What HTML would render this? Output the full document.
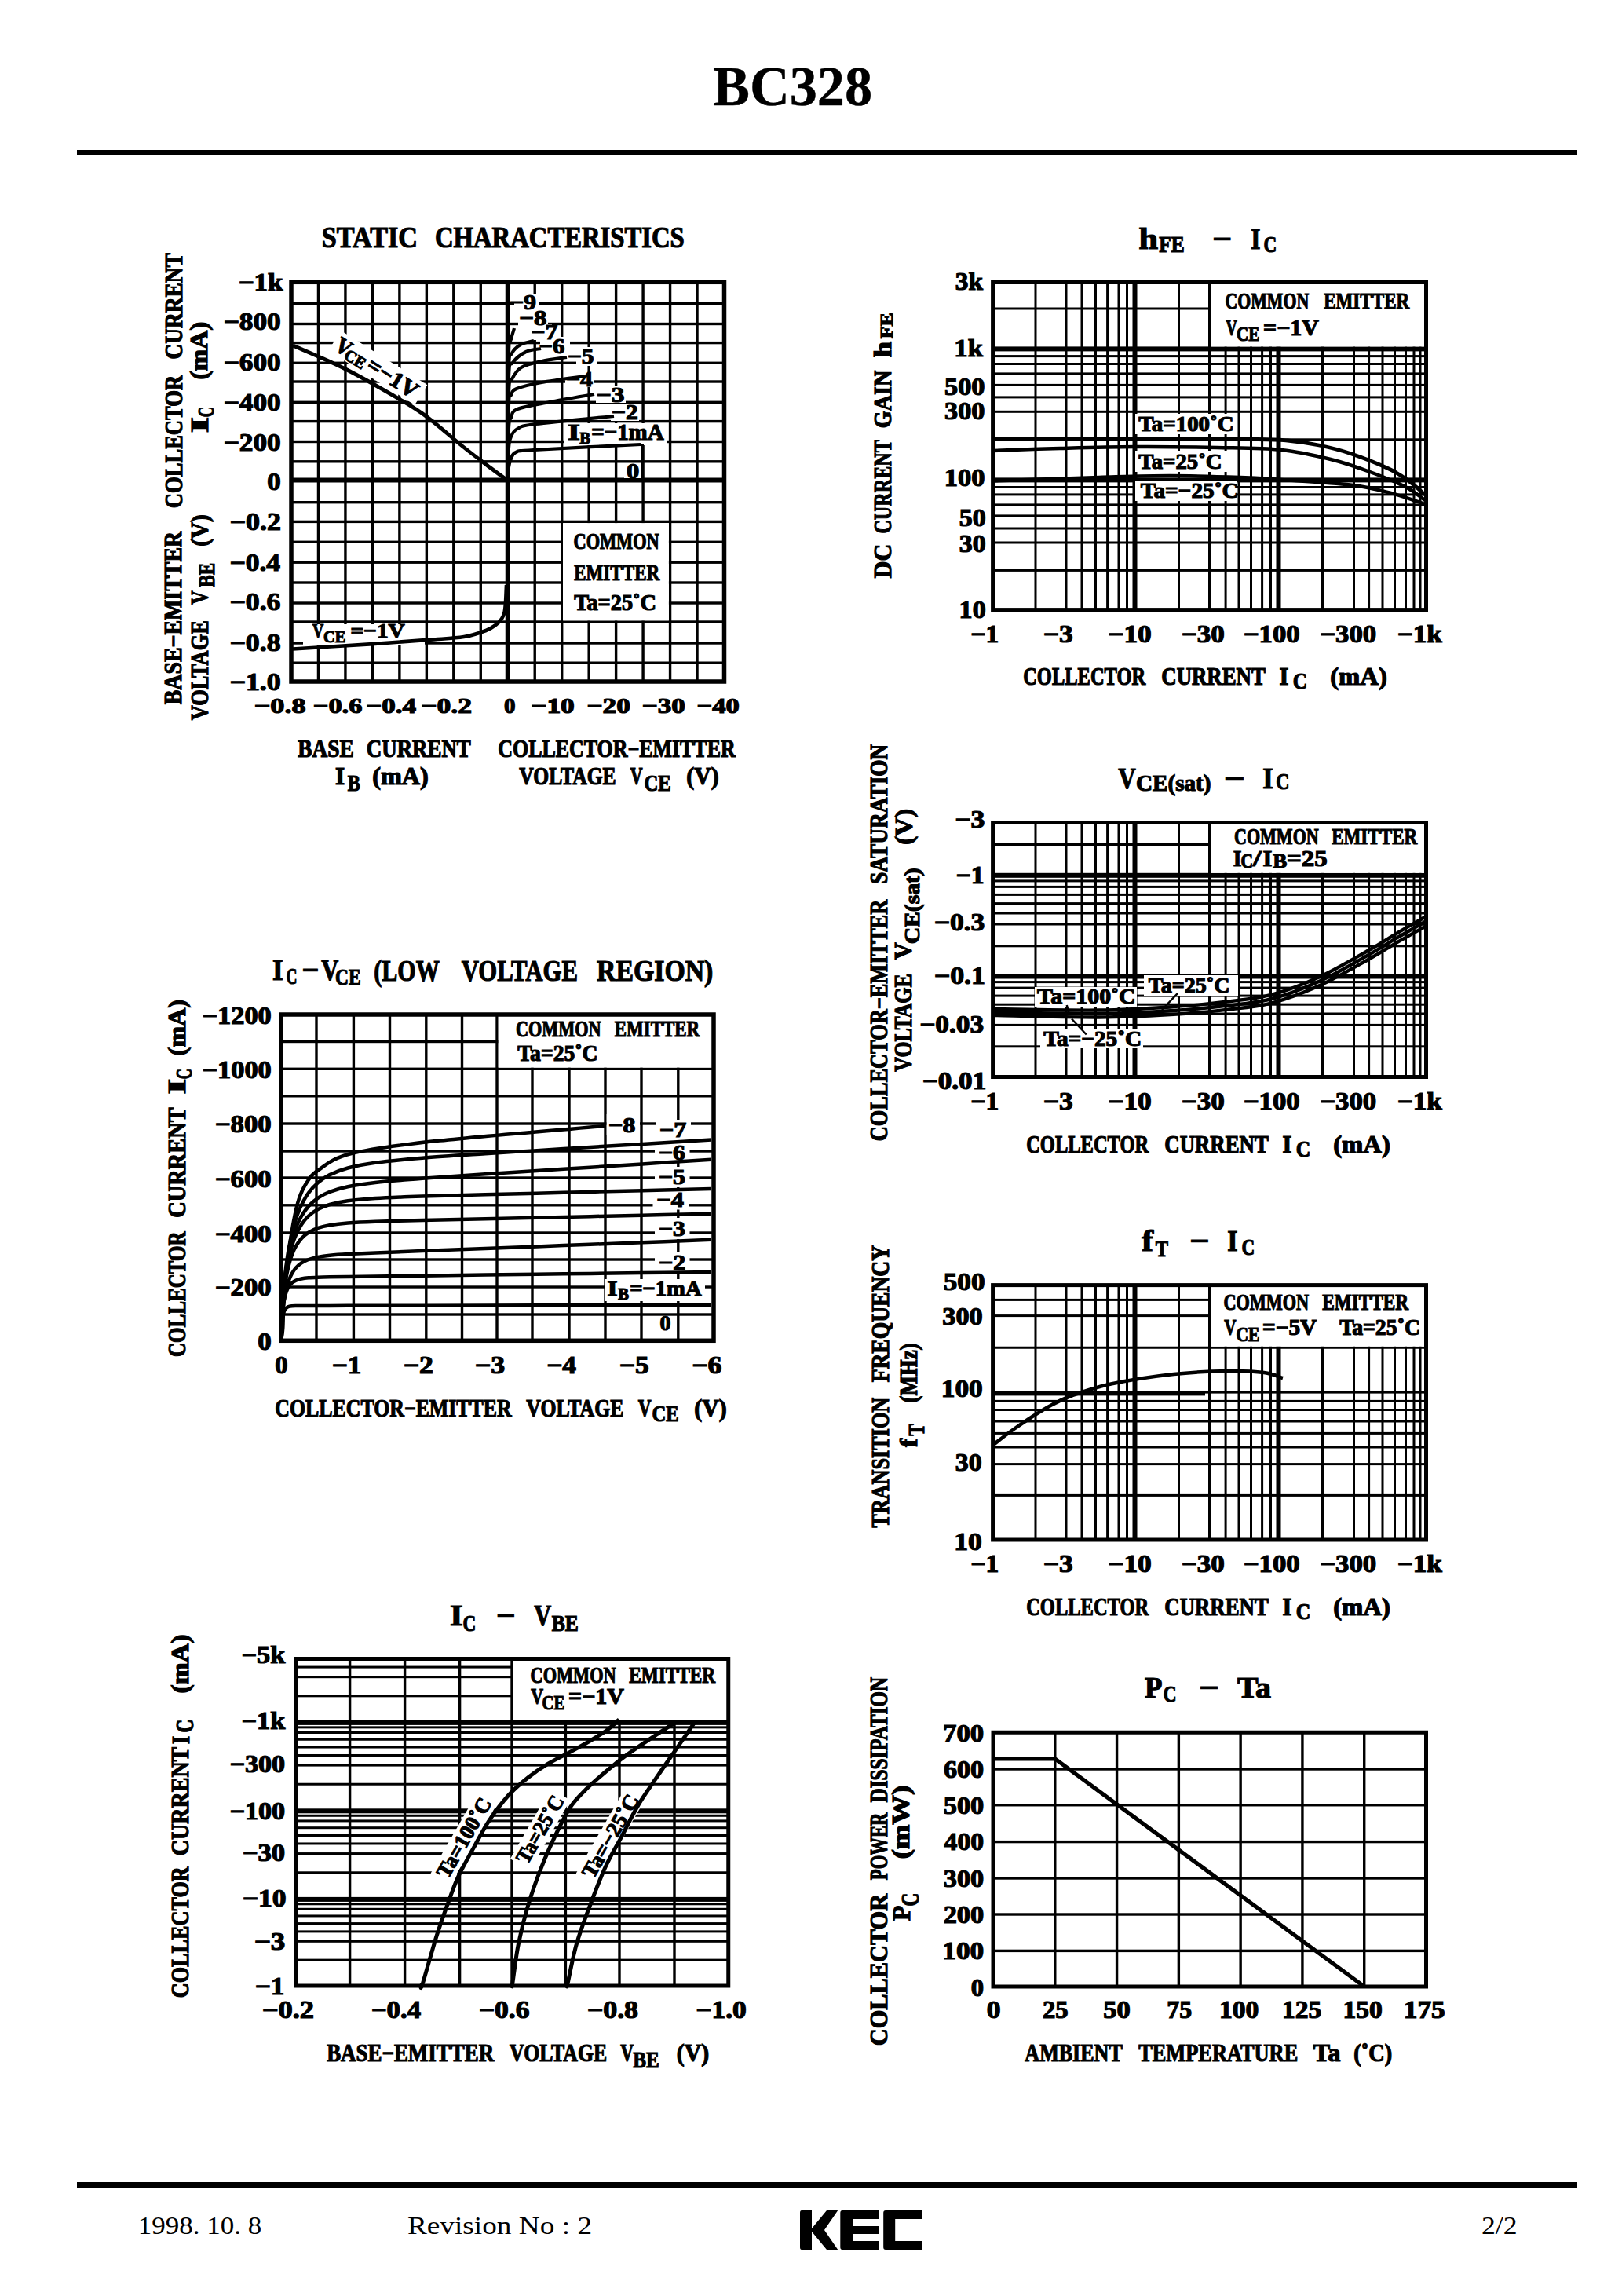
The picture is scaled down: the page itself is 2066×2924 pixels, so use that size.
<!DOCTYPE html>
<html><head><meta charset="utf-8"><title>BC328</title>
<style>
html,body{margin:0;padding:0;background:#fff;width:2066px;height:2924px;overflow:hidden}
svg{display:block}
text{font-family:"Liberation Serif",serif;white-space:pre}
</style></head><body>
<svg xmlns="http://www.w3.org/2000/svg" xml:space="preserve" width="2066" height="2924" viewBox="0 0 2066 2924">
<rect x="0" y="0" width="2066" height="2924" fill="#fff"/>
<text x="908.03" y="133.5" font-size="71.5" font-weight="bold" font-family="Liberation Serif" textLength="203.1" lengthAdjust="spacingAndGlyphs" stroke="#000" stroke-width="0.4">BC328</text>
<rect x="98" y="191" width="1911" height="7" fill="#000"/>
<rect x="98" y="2779" width="1911" height="7" fill="#000"/>
<text x="175.67" y="2845" font-size="32" font-weight="normal" font-family="Liberation Serif" textLength="157.66" lengthAdjust="spacingAndGlyphs">1998. 10. 8</text>
<text x="518.93" y="2845" font-size="32" font-weight="normal" font-family="Liberation Serif" textLength="235.13" lengthAdjust="spacingAndGlyphs">Revision No : 2</text>
<text x="1887.03" y="2845" font-size="32" font-weight="normal" font-family="Liberation Serif" textLength="45.64" lengthAdjust="spacingAndGlyphs">2/2</text>
<path d="M1021 2815 L1034 2815 L1034 2838 L1053 2815 L1067.2 2815 L1050 2840 L1067.2 2865 L1053 2865 L1034 2842 L1034 2865 L1021 2865 Q1019 2865 1019 2862 L1019 2818 Q1019 2815 1021 2815 Z" fill="#000"/>
<path d="M1073 2815 L1119 2815 L1119 2826 L1086 2826 L1086 2835 L1119 2835 L1119 2845 L1086 2845 L1086 2854 L1119 2854 L1119 2865 L1073 2865 Q1070.3 2865 1070.3 2862 L1070.3 2818 Q1070.3 2815 1073 2815 Z" fill="#000"/>
<path d="M1128 2815 L1174 2815 L1174 2826 L1140.2 2826 L1140.2 2854 L1174 2854 L1174 2865 L1128 2865 Q1125.2 2865 1125.2 2862 L1125.2 2818 Q1125.2 2815 1128 2815 Z" fill="#000"/>
<rect x="403.77" y="359.3" width="3.4" height="508.7" fill="#000"/>
<rect x="438.24" y="359.3" width="3.4" height="508.7" fill="#000"/>
<rect x="472.71" y="359.3" width="3.4" height="508.7" fill="#000"/>
<rect x="507.18" y="359.3" width="3.4" height="508.7" fill="#000"/>
<rect x="541.64" y="359.3" width="3.4" height="508.7" fill="#000"/>
<rect x="576.11" y="359.3" width="3.4" height="508.7" fill="#000"/>
<rect x="610.58" y="359.3" width="3.4" height="508.7" fill="#000"/>
<rect x="643.75" y="359.3" width="6" height="508.7" fill="#000"/>
<rect x="679.52" y="359.3" width="3.4" height="508.7" fill="#000"/>
<rect x="713.99" y="359.3" width="3.4" height="508.7" fill="#000"/>
<rect x="748.46" y="359.3" width="3.4" height="508.7" fill="#000"/>
<rect x="782.92" y="359.3" width="3.4" height="508.7" fill="#000"/>
<rect x="817.39" y="359.3" width="3.4" height="508.7" fill="#000"/>
<rect x="851.86" y="359.3" width="3.4" height="508.7" fill="#000"/>
<rect x="886.33" y="359.3" width="3.4" height="508.7" fill="#000"/>
<rect x="371" y="384.8" width="551.5" height="3.4" fill="#000"/>
<rect x="371" y="410.8" width="551.5" height="3.4" fill="#000"/>
<rect x="371" y="434.9" width="551.5" height="3.4" fill="#000"/>
<rect x="371" y="460.6" width="551.5" height="3.4" fill="#000"/>
<rect x="371" y="484.3" width="551.5" height="3.4" fill="#000"/>
<rect x="371" y="510.6" width="551.5" height="3.4" fill="#000"/>
<rect x="371" y="534.9" width="551.5" height="3.4" fill="#000"/>
<rect x="371" y="560.8" width="551.5" height="3.4" fill="#000"/>
<rect x="371" y="586.1" width="551.5" height="3.4" fill="#000"/>
<rect x="371" y="608.5" width="551.5" height="6" fill="#000"/>
<rect x="371" y="638" width="551.5" height="3.4" fill="#000"/>
<rect x="371" y="662.7" width="551.5" height="3.4" fill="#000"/>
<rect x="371" y="688.6" width="551.5" height="3.4" fill="#000"/>
<rect x="371" y="714.5" width="551.5" height="3.4" fill="#000"/>
<rect x="371" y="740.3" width="551.5" height="3.4" fill="#000"/>
<rect x="371" y="766.3" width="551.5" height="3.4" fill="#000"/>
<rect x="371" y="790.3" width="551.5" height="3.4" fill="#000"/>
<rect x="371" y="817.3" width="551.5" height="3.4" fill="#000"/>
<rect x="371" y="842.5" width="551.5" height="3.4" fill="#000"/>
<rect x="371" y="359.3" width="551.5" height="508.7" fill="none" stroke="#000" stroke-width="5.5"/>
<rect x="717" y="666.1" width="134.9" height="124.2" fill="#fff"/>
<text x="730.51" y="699" font-size="28.5" font-weight="bold" font-family="Liberation Serif" textLength="109.19" lengthAdjust="spacingAndGlyphs" stroke="#000" stroke-width="1.2">COMMON</text>
<text x="731.21" y="738.5" font-size="28.5" font-weight="bold" font-family="Liberation Serif" textLength="108.99" lengthAdjust="spacingAndGlyphs" stroke="#000" stroke-width="1.2">EMITTER</text>
<text x="731.17" y="776.5" font-size="28.5" font-weight="bold" font-family="Liberation Serif" textLength="104.84" lengthAdjust="spacingAndGlyphs" stroke="#000" stroke-width="1.2">Ta=25˚C</text>
<rect x="655" y="375" width="31" height="22" fill="#fff"/>
<rect x="660" y="397" width="38" height="19" fill="#fff"/>
<rect x="661" y="412" width="42" height="21" fill="#fff"/>
<rect x="688" y="429" width="38" height="28" fill="#fff"/>
<rect x="734" y="442" width="27" height="24" fill="#fff"/>
<rect x="720" y="474" width="37" height="19" fill="#fff"/>
<rect x="759" y="492" width="38" height="21" fill="#fff"/>
<rect x="778" y="514" width="36" height="22" fill="#fff"/>
<rect x="719" y="539" width="131" height="28" fill="#fff"/>
<rect x="795" y="590" width="21" height="19" fill="#fff"/>
<rect x="386" y="795" width="155" height="26.5" fill="#fff"/>
<g transform="translate(430.5,449.4) rotate(32.2)"><rect x="-12" y="-26" width="130" height="30" fill="#fff"/></g>
<path d="M373 440 C384.17 445 417.17 458.5 440 470 C462.83 481.5 492.67 498.83 510 509 C527.33 519.17 530.67 521 544 531 C557.33 541 576.5 558.17 590 569 C603.5 579.83 615.33 588.67 625 596 C634.67 603.33 644.17 610.17 648 613" fill="none" stroke="#000" stroke-width="4.8" stroke-linejoin="round" stroke-linecap="butt"/>
<path d="M373 826.5 C389.33 825.48 442.33 822.33 471 820.4 C499.67 818.47 525 816.47 545 814.9 C565 813.33 578.67 812.98 591 811 C603.33 809.02 612.17 805.58 619 803 C625.83 800.42 628.67 798 632 795.5 C635.33 793 637.25 790.58 639 788 C640.75 785.42 641.67 783.5 642.5 780 C643.33 776.5 643.58 772.83 644 767 C644.42 761.17 644.83 748.67 645 745" fill="none" stroke="#000" stroke-width="4.6" stroke-linejoin="round" stroke-linecap="butt"/>
<path d="M647 612 C647.17 609.17 647.33 599.67 648 595 C648.67 590.33 649.5 587.17 651 584 C652.5 580.83 652.17 577.83 657 576 C661.83 574.17 653.5 574.67 680 573 C706.5 571.33 793.33 567.17 816 566" fill="none" stroke="#000" stroke-width="4.2" stroke-linejoin="round" stroke-linecap="butt"/>
<path d="M647 612 C647.17 605 647.33 579.33 648 570 C648.67 560.67 649.17 560 651 556 C652.83 552 653.83 548.67 659 546 C664.17 543.33 661.5 542.67 682 540 C702.5 537.33 765.33 531.67 782 530" fill="none" stroke="#000" stroke-width="4.2" stroke-linejoin="round" stroke-linecap="butt"/>
<path d="M647 612 C647.17 600.83 647.33 558.33 648 545 C648.67 531.67 649.17 536 651 532 C652.83 528 650.83 524.33 659 521 C667.17 517.67 683.67 515.17 700 512 C716.33 508.83 747.5 503.67 757 502" fill="none" stroke="#000" stroke-width="4.2" stroke-linejoin="round" stroke-linecap="butt"/>
<path d="M647 612 C647.17 595.83 647.33 533.17 648 515 C648.67 496.83 649.33 506.33 651 503 C652.67 499.67 651.5 497.67 658 495 C664.5 492.33 675.5 489.67 690 487 C704.5 484.33 735.83 480.33 745 479" fill="none" stroke="#000" stroke-width="4.2" stroke-linejoin="round" stroke-linecap="butt"/>
<path d="M647 612 C647.17 593.33 647.17 521.5 648 500 C648.83 478.5 649.33 488.33 652 483 C654.67 477.67 657.67 471.83 664 468 C670.33 464.17 680.33 462.17 690 460 C699.67 457.83 716.67 455.83 722 455" fill="none" stroke="#000" stroke-width="4.2" stroke-linejoin="round" stroke-linecap="butt"/>
<path d="M647 612 C647.17 590 647 505 648 480 C649 455 649.33 467.33 653 462 C656.67 456.67 664 451 670 448 C676 445 685.83 444.67 689 444" fill="none" stroke="#000" stroke-width="4.2" stroke-linejoin="round" stroke-linecap="butt"/>
<path d="M647 612 C647.17 588.33 647.17 497 648 470 C648.83 443 649.5 455.17 652 450 C654.5 444.83 658.33 441.67 663 439 C667.67 436.33 677.17 434.83 680 434" fill="none" stroke="#000" stroke-width="4.2" stroke-linejoin="round" stroke-linecap="butt"/>
<path d="M647 612 C647.17 585 647.33 480 648 450 C648.67 420 649.83 437.33 651 432 C652.17 426.67 654.33 420.33 655 418" fill="none" stroke="#000" stroke-width="4.2" stroke-linejoin="round" stroke-linecap="butt"/>
<rect x="816" y="565" width="4" height="46" fill="#000"/>
<text x="648.92" y="394" font-size="27" font-weight="bold" font-family="Liberation Serif" textLength="34.14" lengthAdjust="spacingAndGlyphs" stroke="#000" stroke-width="1.2">−9</text>
<text x="661.37" y="414" font-size="27" font-weight="bold" font-family="Liberation Serif" textLength="35.12" lengthAdjust="spacingAndGlyphs" stroke="#000" stroke-width="1.2">−8</text>
<text x="676.44" y="431.5" font-size="27" font-weight="bold" font-family="Liberation Serif" textLength="33.73" lengthAdjust="spacingAndGlyphs" stroke="#000" stroke-width="1.2">−7</text>
<text x="686.48" y="450" font-size="27" font-weight="bold" font-family="Liberation Serif" textLength="32.82" lengthAdjust="spacingAndGlyphs" stroke="#000" stroke-width="1.2">−6</text>
<text x="722.94" y="463" font-size="27" font-weight="bold" font-family="Liberation Serif" textLength="33.61" lengthAdjust="spacingAndGlyphs" stroke="#000" stroke-width="1.2">−5</text>
<text x="720.92" y="491.5" font-size="27" font-weight="bold" font-family="Liberation Serif" textLength="34.07" lengthAdjust="spacingAndGlyphs" stroke="#000" stroke-width="1.2">−4</text>
<text x="759.84" y="511.5" font-size="27" font-weight="bold" font-family="Liberation Serif" textLength="35.7" lengthAdjust="spacingAndGlyphs" stroke="#000" stroke-width="1.2">−3</text>
<text x="778.93" y="534" font-size="27" font-weight="bold" font-family="Liberation Serif" textLength="33.83" lengthAdjust="spacingAndGlyphs" stroke="#000" stroke-width="1.2">−2</text>
<text x="722.98" y="560" font-size="29" font-weight="bold" font-family="Liberation Serif" textLength="15.78" lengthAdjust="spacingAndGlyphs" stroke="#000" stroke-width="1.2">I</text>
<text x="738.26" y="565" font-size="21" font-weight="bold" font-family="Liberation Serif" textLength="13.71" lengthAdjust="spacingAndGlyphs" stroke="#000" stroke-width="1.2">B</text>
<text x="753.16" y="560" font-size="29" font-weight="bold" font-family="Liberation Serif" textLength="92.45" lengthAdjust="spacingAndGlyphs" stroke="#000" stroke-width="1.2">=−1mA</text>
<text x="798.11" y="609" font-size="27" font-weight="bold" font-family="Liberation Serif" textLength="16.28" lengthAdjust="spacingAndGlyphs" stroke="#000" stroke-width="1.2">0</text>
<text x="397.88" y="811.5" font-size="26" font-weight="bold" font-family="Liberation Serif" textLength="14.24" lengthAdjust="spacingAndGlyphs" stroke="#000" stroke-width="1.2">V</text>
<text x="412.1" y="817.75" font-size="20" font-weight="bold" font-family="Liberation Serif" textLength="28.34" lengthAdjust="spacingAndGlyphs" stroke="#000" stroke-width="1.2">CE</text>
<text x="446.64" y="811.5" font-size="26" font-weight="bold" font-family="Liberation Serif" textLength="69.09" lengthAdjust="spacingAndGlyphs" stroke="#000" stroke-width="1.2">=−1V</text>
<g transform="translate(430.5,449.4) rotate(32.2)">
<text x="-7.7" y="-1" font-size="29" font-weight="bold" font-family="Liberation Serif" textLength="19.4" lengthAdjust="spacingAndGlyphs" stroke="#000" stroke-width="1.2">V</text>
<text x="8.6" y="2" font-size="21" font-weight="bold" font-family="Liberation Serif" textLength="28.34" lengthAdjust="spacingAndGlyphs" stroke="#000" stroke-width="1.2">CE</text>
<text x="40.09" y="-1" font-size="29" font-weight="bold" font-family="Liberation Serif" textLength="71.65" lengthAdjust="spacingAndGlyphs" stroke="#000" stroke-width="1.2">=−1V</text>
</g>
<text x="303.76" y="370" font-size="30.5" font-weight="bold" font-family="Liberation Serif" textLength="56.69" lengthAdjust="spacingAndGlyphs" stroke="#000" stroke-width="1.2">−1k</text>
<text x="284.74" y="420" font-size="30.5" font-weight="bold" font-family="Liberation Serif" textLength="73" lengthAdjust="spacingAndGlyphs" stroke="#000" stroke-width="1.2">−800</text>
<text x="284.74" y="471.5" font-size="30.5" font-weight="bold" font-family="Liberation Serif" textLength="73" lengthAdjust="spacingAndGlyphs" stroke="#000" stroke-width="1.2">−600</text>
<text x="284.74" y="523" font-size="30.5" font-weight="bold" font-family="Liberation Serif" textLength="73" lengthAdjust="spacingAndGlyphs" stroke="#000" stroke-width="1.2">−400</text>
<text x="284.74" y="574" font-size="30.5" font-weight="bold" font-family="Liberation Serif" textLength="73" lengthAdjust="spacingAndGlyphs" stroke="#000" stroke-width="1.2">−200</text>
<text x="340.27" y="624" font-size="30.5" font-weight="bold" font-family="Liberation Serif" textLength="17.46" lengthAdjust="spacingAndGlyphs" stroke="#000" stroke-width="1.2">0</text>
<text x="292.45" y="675" font-size="30.5" font-weight="bold" font-family="Liberation Serif" textLength="65.49" lengthAdjust="spacingAndGlyphs" stroke="#000" stroke-width="1.2">−0.2</text>
<text x="292.48" y="726.5" font-size="30.5" font-weight="bold" font-family="Liberation Serif" textLength="64.58" lengthAdjust="spacingAndGlyphs" stroke="#000" stroke-width="1.2">−0.4</text>
<text x="292.47" y="776.5" font-size="30.5" font-weight="bold" font-family="Liberation Serif" textLength="64.98" lengthAdjust="spacingAndGlyphs" stroke="#000" stroke-width="1.2">−0.6</text>
<text x="292.46" y="829" font-size="30.5" font-weight="bold" font-family="Liberation Serif" textLength="65.13" lengthAdjust="spacingAndGlyphs" stroke="#000" stroke-width="1.2">−0.8</text>
<text x="292.46" y="879" font-size="30.5" font-weight="bold" font-family="Liberation Serif" textLength="65.31" lengthAdjust="spacingAndGlyphs" stroke="#000" stroke-width="1.2">−1.0</text>
<text x="323.69" y="907.75" font-size="27" font-weight="bold" font-family="Liberation Serif" textLength="65.91" lengthAdjust="spacingAndGlyphs" stroke="#000" stroke-width="1.2">−0.8</text>
<text x="398.79" y="907.75" font-size="27" font-weight="bold" font-family="Liberation Serif" textLength="62.62" lengthAdjust="spacingAndGlyphs" stroke="#000" stroke-width="1.2">−0.6</text>
<text x="466.25" y="907.75" font-size="27" font-weight="bold" font-family="Liberation Serif" textLength="63.8" lengthAdjust="spacingAndGlyphs" stroke="#000" stroke-width="1.2">−0.4</text>
<text x="536.23" y="907.75" font-size="27" font-weight="bold" font-family="Liberation Serif" textLength="64.7" lengthAdjust="spacingAndGlyphs" stroke="#000" stroke-width="1.2">−0.2</text>
<text x="641.99" y="907.75" font-size="27" font-weight="bold" font-family="Liberation Serif" textLength="14.51" lengthAdjust="spacingAndGlyphs" stroke="#000" stroke-width="1.2">0</text>
<text x="676.24" y="907.75" font-size="27" font-weight="bold" font-family="Liberation Serif" textLength="55.51" lengthAdjust="spacingAndGlyphs" stroke="#000" stroke-width="1.2">−10</text>
<text x="747.49" y="907.75" font-size="27" font-weight="bold" font-family="Liberation Serif" textLength="55.25" lengthAdjust="spacingAndGlyphs" stroke="#000" stroke-width="1.2">−20</text>
<text x="817.75" y="907.75" font-size="27" font-weight="bold" font-family="Liberation Serif" textLength="54.98" lengthAdjust="spacingAndGlyphs" stroke="#000" stroke-width="1.2">−30</text>
<text x="887.53" y="907.75" font-size="27" font-weight="bold" font-family="Liberation Serif" textLength="54.18" lengthAdjust="spacingAndGlyphs" stroke="#000" stroke-width="1.2">−40</text>
<text x="409.86" y="315" font-size="38" font-weight="bold" font-family="Liberation Serif" textLength="122.04" lengthAdjust="spacingAndGlyphs" stroke="#000" stroke-width="1.2">STATIC</text>
<text x="554" y="315" font-size="38" font-weight="bold" font-family="Liberation Serif" textLength="317.78" lengthAdjust="spacingAndGlyphs" stroke="#000" stroke-width="1.2">CHARACTERISTICS</text>
<text x="379.14" y="964" font-size="30.5" font-weight="bold" font-family="Liberation Serif" textLength="71.66" lengthAdjust="spacingAndGlyphs" stroke="#000" stroke-width="1.2">BASE</text>
<text x="466.79" y="964" font-size="30.5" font-weight="bold" font-family="Liberation Serif" textLength="133.02" lengthAdjust="spacingAndGlyphs" stroke="#000" stroke-width="1.2">CURRENT</text>
<text x="634.34" y="964" font-size="30.5" font-weight="bold" font-family="Liberation Serif" textLength="302.34" lengthAdjust="spacingAndGlyphs" stroke="#000" stroke-width="1.2">COLLECTOR−EMITTER</text>
<text x="427.05" y="999" font-size="30.5" font-weight="bold" font-family="Liberation Serif" textLength="12.15" lengthAdjust="spacingAndGlyphs" stroke="#000" stroke-width="1.2">I</text>
<text x="442.7" y="1006.5" font-size="29" font-weight="bold" font-family="Liberation Serif" textLength="16.12" lengthAdjust="spacingAndGlyphs" stroke="#000" stroke-width="1.2">B</text>
<text x="474.18" y="999" font-size="30.5" font-weight="bold" font-family="Liberation Serif" textLength="71.63" lengthAdjust="spacingAndGlyphs" stroke="#000" stroke-width="1.2">(mA)</text>
<text x="661.32" y="999" font-size="30.5" font-weight="bold" font-family="Liberation Serif" textLength="123.34" lengthAdjust="spacingAndGlyphs" stroke="#000" stroke-width="1.2">VOLTAGE</text>
<text x="802.85" y="999" font-size="30.5" font-weight="bold" font-family="Liberation Serif" textLength="15.79" lengthAdjust="spacingAndGlyphs" stroke="#000" stroke-width="1.2">V</text>
<text x="820.4" y="1006.5" font-size="29" font-weight="bold" font-family="Liberation Serif" textLength="34.27" lengthAdjust="spacingAndGlyphs" stroke="#000" stroke-width="1.2">CE</text>
<text x="874.29" y="999" font-size="30.5" font-weight="bold" font-family="Liberation Serif" textLength="41.42" lengthAdjust="spacingAndGlyphs" stroke="#000" stroke-width="1.2">(V)</text>
<text transform="translate(231.5,647.19) rotate(-90)" x="0" y="0" font-size="30.5" font-weight="bold" font-family="Liberation Serif" textLength="169.36" lengthAdjust="spacingAndGlyphs" stroke="#000" stroke-width="1.2">COLLECTOR</text>
<text transform="translate(231.5,457.54) rotate(-90)" x="0" y="0" font-size="30.5" font-weight="bold" font-family="Liberation Serif" textLength="135.35" lengthAdjust="spacingAndGlyphs" stroke="#000" stroke-width="1.2">CURRENT</text>
<text transform="translate(231,897.36) rotate(-90)" x="0" y="0" font-size="30.5" font-weight="bold" font-family="Liberation Serif" textLength="220.52" lengthAdjust="spacingAndGlyphs" stroke="#000" stroke-width="1.2">BASE−EMITTER</text>
<text transform="translate(263.5,483.56) rotate(-90)" x="0" y="0" font-size="30.5" font-weight="bold" font-family="Liberation Serif" textLength="73.93" lengthAdjust="spacingAndGlyphs" stroke="#000" stroke-width="1.2">(mA)</text>
<text transform="translate(265,551.16) rotate(-90)" x="0" y="0" font-size="30.5" font-weight="bold" font-family="Liberation Serif" textLength="20.32" lengthAdjust="spacingAndGlyphs" stroke="#000" stroke-width="1.2">I</text>
<text transform="translate(272,531.3) rotate(-90)" x="0" y="0" font-size="29" font-weight="bold" font-family="Liberation Serif" textLength="13.36" lengthAdjust="spacingAndGlyphs" stroke="#000" stroke-width="1.2">C</text>
<text transform="translate(265,917.18) rotate(-90)" x="0" y="0" font-size="30.5" font-weight="bold" font-family="Liberation Serif" textLength="126.89" lengthAdjust="spacingAndGlyphs" stroke="#000" stroke-width="1.2">VOLTAGE</text>
<text transform="translate(265,769.67) rotate(-90)" x="0" y="0" font-size="30.5" font-weight="bold" font-family="Liberation Serif" textLength="17.34" lengthAdjust="spacingAndGlyphs" stroke="#000" stroke-width="1.2">V</text>
<text transform="translate(272.5,747.78) rotate(-90)" x="0" y="0" font-size="29" font-weight="bold" font-family="Liberation Serif" textLength="30.87" lengthAdjust="spacingAndGlyphs" stroke="#000" stroke-width="1.2">BE</text>
<text transform="translate(265,695.68) rotate(-90)" x="0" y="0" font-size="30.5" font-weight="bold" font-family="Liberation Serif" textLength="40.36" lengthAdjust="spacingAndGlyphs" stroke="#000" stroke-width="1.2">(V)</text>
<rect x="401.3" y="1292" width="3.4" height="415.3" fill="#000"/>
<rect x="448.7" y="1292" width="3.4" height="415.3" fill="#000"/>
<rect x="494.8" y="1292" width="3.4" height="415.3" fill="#000"/>
<rect x="541.1" y="1292" width="3.4" height="415.3" fill="#000"/>
<rect x="586.8" y="1292" width="3.4" height="415.3" fill="#000"/>
<rect x="631.3" y="1292" width="3.4" height="415.3" fill="#000"/>
<rect x="676.3" y="1292" width="3.4" height="415.3" fill="#000"/>
<rect x="723.3" y="1292" width="3.4" height="415.3" fill="#000"/>
<rect x="769.3" y="1292" width="3.4" height="415.3" fill="#000"/>
<rect x="815.3" y="1292" width="3.4" height="415.3" fill="#000"/>
<rect x="862.1" y="1292" width="3.4" height="415.3" fill="#000"/>
<rect x="358" y="1324.8" width="551" height="3.4" fill="#000"/>
<rect x="358" y="1359.6" width="551" height="3.4" fill="#000"/>
<rect x="358" y="1394.1" width="551" height="3.4" fill="#000"/>
<rect x="358" y="1429.3" width="551" height="3.4" fill="#000"/>
<rect x="358" y="1464.3" width="551" height="3.4" fill="#000"/>
<rect x="358" y="1498.3" width="551" height="3.4" fill="#000"/>
<rect x="358" y="1533.1" width="551" height="3.4" fill="#000"/>
<rect x="358" y="1568.3" width="551" height="3.4" fill="#000"/>
<rect x="358" y="1602.3" width="551" height="3.4" fill="#000"/>
<rect x="358" y="1637.3" width="551" height="3.4" fill="#000"/>
<rect x="358" y="1672.3" width="551" height="3.4" fill="#000"/>
<rect x="634.7" y="1292" width="274.3" height="67.6" fill="#fff"/>
<rect x="358" y="1292" width="551" height="415.3" fill="none" stroke="#000" stroke-width="5.5"/>
<text x="657.01" y="1320" font-size="28.5" font-weight="bold" font-family="Liberation Serif" textLength="108.68" lengthAdjust="spacingAndGlyphs" stroke="#000" stroke-width="1.2">COMMON</text>
<text x="782.71" y="1320" font-size="28.5" font-weight="bold" font-family="Liberation Serif" textLength="108.49" lengthAdjust="spacingAndGlyphs" stroke="#000" stroke-width="1.2">EMITTER</text>
<text x="659.18" y="1350.75" font-size="28.5" font-weight="bold" font-family="Liberation Serif" textLength="102.28" lengthAdjust="spacingAndGlyphs" stroke="#000" stroke-width="1.2">Ta=25˚C</text>
<rect x="772.7" y="1419" width="42.3" height="27" fill="#fff"/>
<rect x="835" y="1426" width="45" height="26" fill="#fff"/>
<rect x="834" y="1455" width="44.5" height="25.5" fill="#fff"/>
<rect x="834" y="1486" width="44.5" height="26" fill="#fff"/>
<rect x="831.5" y="1517" width="45.5" height="23.5" fill="#fff"/>
<rect x="834" y="1551" width="44.5" height="27" fill="#fff"/>
<rect x="834" y="1595" width="44.5" height="25.5" fill="#fff"/>
<rect x="770" y="1629" width="128" height="28" fill="#fff"/>
<rect x="836" y="1676" width="23" height="21" fill="#fff"/>
<path d="M358 1707 C358.08 1704.74 358.3 1697.24 358.5 1693.45 C358.7 1689.65 358.92 1687.02 359.2 1684.23 C359.48 1681.43 359.82 1678.83 360.2 1676.66 C360.58 1674.49 361.03 1672.68 361.5 1671.2 C361.97 1669.71 362.42 1668.73 363 1667.78 C363.58 1666.82 364.17 1666.08 365 1665.44 C365.83 1664.81 366.83 1664.32 368 1663.95 C369.17 1663.59 370.5 1663.43 372 1663.28 C373.5 1663.13 375 1663.1 377 1663.04 C379 1662.99 381.33 1662.98 384 1662.96 C386.67 1662.94 389.5 1662.94 393 1662.93 C396.5 1662.92 400.5 1662.92 405 1662.91 C409.5 1662.9 413.67 1662.89 420 1662.88 C426.33 1662.86 433.33 1662.85 443 1662.83 C452.67 1662.81 462.17 1662.79 478 1662.76 C493.83 1662.73 514.67 1662.69 538 1662.64 C561.33 1662.59 588 1662.54 618 1662.48 C648 1662.42 684.67 1662.35 718 1662.28 C751.33 1662.21 786.67 1662.14 818 1662.08 C849.33 1662.02 891.33 1661.93 906 1661.9" fill="none" stroke="#000" stroke-width="4.5" stroke-linejoin="round" stroke-linecap="butt"/>
<path d="M358 1707 C358.08 1704.08 358.3 1694.35 358.5 1689.5 C358.7 1684.65 358.92 1681.63 359.2 1677.92 C359.48 1674.22 359.82 1670.58 360.2 1667.26 C360.58 1663.95 361.03 1660.79 361.5 1658.05 C361.97 1655.31 362.42 1653.11 363 1650.83 C363.58 1648.54 364.17 1646.43 365 1644.33 C365.83 1642.24 366.83 1640.03 368 1638.26 C369.17 1636.48 370.5 1634.94 372 1633.66 C373.5 1632.38 375 1631.45 377 1630.6 C379 1629.74 381.33 1629.05 384 1628.51 C386.67 1627.96 389.5 1627.63 393 1627.33 C396.5 1627.02 400.5 1626.84 405 1626.66 C409.5 1626.49 413.67 1626.4 420 1626.28 C426.33 1626.15 433.33 1626.05 443 1625.91 C452.67 1625.77 462.17 1625.65 478 1625.44 C493.83 1625.23 514.67 1624.96 538 1624.66 C561.33 1624.36 588 1624.01 618 1623.62 C648 1623.23 684.67 1622.75 718 1622.32 C751.33 1621.89 786.67 1621.43 818 1621.02 C849.33 1620.61 891.33 1620.07 906 1619.88" fill="none" stroke="#000" stroke-width="4.5" stroke-linejoin="round" stroke-linecap="butt"/>
<path d="M358 1707 C358.08 1704.47 358.3 1696.19 358.5 1691.79 C358.7 1687.39 358.92 1684.35 359.2 1680.62 C359.48 1676.88 359.82 1673.04 360.2 1669.39 C360.58 1665.74 361.03 1662.04 361.5 1658.72 C361.97 1655.4 362.42 1652.56 363 1649.48 C363.58 1646.41 364.17 1643.43 365 1640.25 C365.83 1637.06 366.83 1633.49 368 1630.38 C369.17 1627.26 370.5 1624.21 372 1621.55 C373.5 1618.9 375 1616.63 377 1614.44 C379 1612.24 381.33 1610.13 384 1608.39 C386.67 1606.65 389.5 1605.25 393 1604 C396.5 1602.75 400.5 1601.74 405 1600.88 C409.5 1600.02 413.67 1599.46 420 1598.83 C426.33 1598.21 433.33 1597.69 443 1597.12 C452.67 1596.56 462.17 1596.13 478 1595.46 C493.83 1594.78 514.67 1593.98 538 1593.06 C561.33 1592.15 588 1591.12 618 1589.96 C648 1588.81 684.67 1587.39 718 1586.1 C751.33 1584.82 786.67 1583.45 818 1582.24 C849.33 1581.03 891.33 1579.41 906 1578.85" fill="none" stroke="#000" stroke-width="4.5" stroke-linejoin="round" stroke-linecap="butt"/>
<path d="M358 1707 C358.08 1704.03 358.3 1694.38 358.5 1689.18 C358.7 1683.97 358.92 1680.3 359.2 1675.77 C359.48 1671.24 359.82 1666.53 360.2 1661.99 C360.58 1657.46 361.03 1652.79 361.5 1648.56 C361.97 1644.33 362.42 1640.65 363 1636.61 C363.58 1632.56 364.17 1628.62 365 1624.29 C365.83 1619.96 366.83 1615.03 368 1610.62 C369.17 1606.21 370.5 1601.76 372 1597.81 C373.5 1593.86 375 1590.38 377 1586.93 C379 1583.48 381.33 1580.01 384 1577.11 C386.67 1574.22 389.5 1571.75 393 1569.55 C396.5 1567.35 400.5 1565.47 405 1563.91 C409.5 1562.36 413.67 1561.29 420 1560.22 C426.33 1559.16 433.33 1558.28 443 1557.53 C452.67 1556.78 462.17 1556.29 478 1555.71 C493.83 1555.12 514.67 1554.6 538 1554.01 C561.33 1553.42 588 1552.84 618 1552.16 C648 1551.47 684.67 1550.65 718 1549.9 C751.33 1549.15 786.67 1548.36 818 1547.65 C849.33 1546.94 891.33 1546 906 1545.67" fill="none" stroke="#000" stroke-width="4.5" stroke-linejoin="round" stroke-linecap="butt"/>
<path d="M358 1707 C358.08 1703.94 358.3 1694.05 358.5 1688.65 C358.7 1683.24 358.92 1679.38 359.2 1674.59 C359.48 1669.8 359.82 1664.78 360.2 1659.89 C360.58 1655.01 361.03 1649.92 361.5 1645.27 C361.97 1640.62 362.42 1636.54 363 1631.99 C363.58 1627.45 364.17 1622.99 365 1617.99 C365.83 1612.98 366.83 1607.24 368 1601.98 C369.17 1596.71 370.5 1591.3 372 1586.4 C373.5 1581.5 375 1577.06 377 1572.57 C379 1568.08 381.33 1563.43 384 1559.44 C386.67 1555.46 389.5 1551.91 393 1548.68 C396.5 1545.46 400.5 1542.52 405 1540.08 C409.5 1537.64 413.67 1535.82 420 1534.03 C426.33 1532.23 433.33 1530.63 443 1529.31 C452.67 1527.99 462.17 1527.06 478 1526.11 C493.83 1525.16 514.67 1524.4 538 1523.6 C561.33 1522.81 588 1522.16 618 1521.35 C648 1520.54 684.67 1519.61 718 1518.75 C751.33 1517.89 786.67 1516.98 818 1516.18 C849.33 1515.37 891.33 1514.29 906 1513.92" fill="none" stroke="#000" stroke-width="4.5" stroke-linejoin="round" stroke-linecap="butt"/>
<path d="M358 1707 C358.08 1703.84 358.3 1693.62 358.5 1688.02 C358.7 1682.42 358.92 1678.4 359.2 1673.4 C359.48 1668.4 359.82 1663.14 360.2 1658.01 C360.58 1652.88 361.03 1647.52 361.5 1642.6 C361.97 1637.69 362.42 1633.35 363 1628.51 C363.58 1623.66 364.17 1618.9 365 1613.52 C365.83 1608.13 366.83 1601.93 368 1596.2 C369.17 1590.46 370.5 1584.53 372 1579.12 C373.5 1573.7 375 1568.76 377 1563.7 C379 1558.63 381.33 1553.34 384 1548.74 C386.67 1544.15 389.5 1539.98 393 1536.13 C396.5 1532.29 400.5 1528.7 405 1525.66 C409.5 1522.62 413.67 1520.27 420 1517.87 C426.33 1515.47 433.33 1513.23 443 1511.25 C452.67 1509.27 462.17 1507.73 478 1505.99 C493.83 1504.25 514.67 1502.56 538 1500.79 C561.33 1499.01 588 1497.33 618 1495.34 C648 1493.35 684.67 1491.01 718 1488.86 C751.33 1486.71 786.67 1484.44 818 1482.42 C849.33 1480.41 891.33 1477.71 906 1476.76" fill="none" stroke="#000" stroke-width="4.5" stroke-linejoin="round" stroke-linecap="butt"/>
<path d="M358 1707 C358.08 1703.73 358.3 1693.18 358.5 1687.36 C358.7 1681.54 358.92 1677.34 359.2 1672.09 C359.48 1666.85 359.82 1661.32 360.2 1655.89 C360.58 1650.46 361.03 1644.76 361.5 1639.51 C361.97 1634.25 362.42 1629.6 363 1624.35 C363.58 1619.11 364.17 1613.96 365 1608.06 C365.83 1602.16 366.83 1595.33 368 1588.95 C369.17 1582.57 370.5 1575.91 372 1569.76 C373.5 1563.61 375 1557.94 377 1552.06 C379 1546.18 381.33 1539.95 384 1534.47 C386.67 1529 389.5 1523.93 393 1519.21 C396.5 1514.48 400.5 1509.98 405 1506.13 C409.5 1502.29 413.67 1499.24 420 1496.13 C426.33 1493.01 433.33 1490.03 443 1487.46 C452.67 1484.89 462.17 1482.84 478 1480.72 C493.83 1478.6 514.67 1476.66 538 1474.75 C561.33 1472.84 588 1471.21 618 1469.25 C648 1467.3 684.67 1465.08 718 1463.03 C751.33 1460.97 786.67 1458.82 818 1456.9 C849.33 1454.98 891.33 1452.41 906 1451.52" fill="none" stroke="#000" stroke-width="4.5" stroke-linejoin="round" stroke-linecap="butt"/>
<path d="M358 1707 C358.38 1704.33 359.68 1701.57 360.3 1691 C360.92 1680.43 361.02 1656.02 361.7 1643.6 C362.38 1631.18 363.27 1625.52 364.4 1616.5 C365.53 1607.48 366.92 1599.65 368.5 1589.5 C370.08 1579.35 371.87 1566.02 373.9 1555.6 C375.93 1545.18 377.98 1535.13 380.7 1527 C383.42 1518.87 386.15 1512.88 390.2 1506.8 C394.25 1500.72 395.28 1496.83 405 1490.5 C414.72 1484.17 422.67 1475.12 448.5 1468.8 C474.33 1462.48 506.42 1458.4 560 1452.6 C613.58 1446.8 735 1437.1 770 1434" fill="none" stroke="#000" stroke-width="4.5" stroke-linejoin="round" stroke-linecap="butt"/>
<text x="774.9" y="1441.5" font-size="27" font-weight="bold" font-family="Liberation Serif" textLength="34.58" lengthAdjust="spacingAndGlyphs" stroke="#000" stroke-width="1.2">−8</text>
<text x="839.91" y="1448" font-size="27" font-weight="bold" font-family="Liberation Serif" textLength="34.27" lengthAdjust="spacingAndGlyphs" stroke="#000" stroke-width="1.2">−7</text>
<text x="838.93" y="1476.5" font-size="27" font-weight="bold" font-family="Liberation Serif" textLength="33.9" lengthAdjust="spacingAndGlyphs" stroke="#000" stroke-width="1.2">−6</text>
<text x="838.92" y="1508" font-size="27" font-weight="bold" font-family="Liberation Serif" textLength="34.15" lengthAdjust="spacingAndGlyphs" stroke="#000" stroke-width="1.2">−5</text>
<text x="836.39" y="1536.5" font-size="27" font-weight="bold" font-family="Liberation Serif" textLength="34.61" lengthAdjust="spacingAndGlyphs" stroke="#000" stroke-width="1.2">−4</text>
<text x="838.92" y="1574" font-size="27" font-weight="bold" font-family="Liberation Serif" textLength="34.07" lengthAdjust="spacingAndGlyphs" stroke="#000" stroke-width="1.2">−3</text>
<text x="838.91" y="1616.5" font-size="27" font-weight="bold" font-family="Liberation Serif" textLength="34.38" lengthAdjust="spacingAndGlyphs" stroke="#000" stroke-width="1.2">−2</text>
<text x="773.47" y="1650" font-size="28" font-weight="bold" font-family="Liberation Serif" textLength="13.06" lengthAdjust="spacingAndGlyphs" stroke="#000" stroke-width="1.2">I</text>
<text x="787.26" y="1655" font-size="20" font-weight="bold" font-family="Liberation Serif" textLength="13.71" lengthAdjust="spacingAndGlyphs" stroke="#000" stroke-width="1.2">B</text>
<text x="802.17" y="1650" font-size="28" font-weight="bold" font-family="Liberation Serif" textLength="91.44" lengthAdjust="spacingAndGlyphs" stroke="#000" stroke-width="1.2">=−1mA</text>
<text x="840.54" y="1694" font-size="27" font-weight="bold" font-family="Liberation Serif" textLength="13.92" lengthAdjust="spacingAndGlyphs" stroke="#000" stroke-width="1.2">0</text>
<text x="257.54" y="1304" font-size="30.5" font-weight="bold" font-family="Liberation Serif" textLength="88.17" lengthAdjust="spacingAndGlyphs" stroke="#000" stroke-width="1.2">−1200</text>
<text x="257.54" y="1372.75" font-size="30.5" font-weight="bold" font-family="Liberation Serif" textLength="88.17" lengthAdjust="spacingAndGlyphs" stroke="#000" stroke-width="1.2">−1000</text>
<text x="273.77" y="1441.5" font-size="30.5" font-weight="bold" font-family="Liberation Serif" textLength="71.96" lengthAdjust="spacingAndGlyphs" stroke="#000" stroke-width="1.2">−800</text>
<text x="273.77" y="1511.5" font-size="30.5" font-weight="bold" font-family="Liberation Serif" textLength="71.96" lengthAdjust="spacingAndGlyphs" stroke="#000" stroke-width="1.2">−600</text>
<text x="273.77" y="1581.5" font-size="30.5" font-weight="bold" font-family="Liberation Serif" textLength="71.96" lengthAdjust="spacingAndGlyphs" stroke="#000" stroke-width="1.2">−400</text>
<text x="273.77" y="1650" font-size="30.5" font-weight="bold" font-family="Liberation Serif" textLength="71.96" lengthAdjust="spacingAndGlyphs" stroke="#000" stroke-width="1.2">−200</text>
<text x="328.27" y="1719" font-size="30.5" font-weight="bold" font-family="Liberation Serif" textLength="17.46" lengthAdjust="spacingAndGlyphs" stroke="#000" stroke-width="1.2">0</text>
<text x="350.36" y="1749" font-size="30.5" font-weight="bold" font-family="Liberation Serif" textLength="16.28" lengthAdjust="spacingAndGlyphs" stroke="#000" stroke-width="1.2">0</text>
<text x="422.75" y="1749" font-size="30.5" font-weight="bold" font-family="Liberation Serif" textLength="37.46" lengthAdjust="spacingAndGlyphs" stroke="#000" stroke-width="1.2">−1</text>
<text x="513.72" y="1749" font-size="30.5" font-weight="bold" font-family="Liberation Serif" textLength="38.22" lengthAdjust="spacingAndGlyphs" stroke="#000" stroke-width="1.2">−2</text>
<text x="604.71" y="1749" font-size="30.5" font-weight="bold" font-family="Liberation Serif" textLength="38.42" lengthAdjust="spacingAndGlyphs" stroke="#000" stroke-width="1.2">−3</text>
<text x="696.24" y="1749" font-size="30.5" font-weight="bold" font-family="Liberation Serif" textLength="37.82" lengthAdjust="spacingAndGlyphs" stroke="#000" stroke-width="1.2">−4</text>
<text x="788.73" y="1749" font-size="30.5" font-weight="bold" font-family="Liberation Serif" textLength="37.97" lengthAdjust="spacingAndGlyphs" stroke="#000" stroke-width="1.2">−5</text>
<text x="881.22" y="1749" font-size="30.5" font-weight="bold" font-family="Liberation Serif" textLength="38.23" lengthAdjust="spacingAndGlyphs" stroke="#000" stroke-width="1.2">−6</text>
<text x="346.92" y="1248" font-size="38" font-weight="bold" font-family="Liberation Serif" textLength="13.67" lengthAdjust="spacingAndGlyphs" stroke="#000" stroke-width="1.2">I</text>
<text x="364.68" y="1253" font-size="29" font-weight="bold" font-family="Liberation Serif" textLength="13.67" lengthAdjust="spacingAndGlyphs" stroke="#000" stroke-width="1.2">C</text>
<text x="384.58" y="1248" font-size="38" font-weight="bold" font-family="Liberation Serif" textLength="21.82" lengthAdjust="spacingAndGlyphs" stroke="#000" stroke-width="1.2">−</text>
<text x="409.26" y="1248" font-size="38" font-weight="bold" font-family="Liberation Serif" textLength="21.98" lengthAdjust="spacingAndGlyphs" stroke="#000" stroke-width="1.2">V</text>
<text x="426.95" y="1254" font-size="29" font-weight="bold" font-family="Liberation Serif" textLength="32.65" lengthAdjust="spacingAndGlyphs" stroke="#000" stroke-width="1.2">CE</text>
<text x="476.28" y="1249" font-size="38" font-weight="bold" font-family="Liberation Serif" textLength="83.59" lengthAdjust="spacingAndGlyphs" stroke="#000" stroke-width="1.2">(LOW</text>
<text x="587.77" y="1249" font-size="38" font-weight="bold" font-family="Liberation Serif" textLength="148.15" lengthAdjust="spacingAndGlyphs" stroke="#000" stroke-width="1.2">VOLTAGE</text>
<text x="760.02" y="1249" font-size="38" font-weight="bold" font-family="Liberation Serif" textLength="148.36" lengthAdjust="spacingAndGlyphs" stroke="#000" stroke-width="1.2">REGION)</text>
<text x="350.34" y="1804" font-size="30.5" font-weight="bold" font-family="Liberation Serif" textLength="301.33" lengthAdjust="spacingAndGlyphs" stroke="#000" stroke-width="1.2">COLLECTOR−EMITTER</text>
<text x="670.32" y="1804" font-size="30.5" font-weight="bold" font-family="Liberation Serif" textLength="124.1" lengthAdjust="spacingAndGlyphs" stroke="#000" stroke-width="1.2">VOLTAGE</text>
<text x="812.84" y="1804" font-size="30.5" font-weight="bold" font-family="Liberation Serif" textLength="16.82" lengthAdjust="spacingAndGlyphs" stroke="#000" stroke-width="1.2">V</text>
<text x="830.4" y="1810" font-size="29" font-weight="bold" font-family="Liberation Serif" textLength="34.27" lengthAdjust="spacingAndGlyphs" stroke="#000" stroke-width="1.2">CE</text>
<text x="884.29" y="1804" font-size="30.5" font-weight="bold" font-family="Liberation Serif" textLength="41.42" lengthAdjust="spacingAndGlyphs" stroke="#000" stroke-width="1.2">(V)</text>
<text transform="translate(236.25,1728.12) rotate(-90)" x="0" y="0" font-size="30.5" font-weight="bold" font-family="Liberation Serif" textLength="159.8" lengthAdjust="spacingAndGlyphs" stroke="#000" stroke-width="1.2">COLLECTOR</text>
<text transform="translate(236.25,1550.79) rotate(-90)" x="0" y="0" font-size="30.5" font-weight="bold" font-family="Liberation Serif" textLength="140.62" lengthAdjust="spacingAndGlyphs" stroke="#000" stroke-width="1.2">CURRENT</text>
<text transform="translate(236.25,1393.61) rotate(-90)" x="0" y="0" font-size="30.5" font-weight="bold" font-family="Liberation Serif" textLength="19.71" lengthAdjust="spacingAndGlyphs" stroke="#000" stroke-width="1.2">I</text>
<text transform="translate(244,1374.28) rotate(-90)" x="0" y="0" font-size="29" font-weight="bold" font-family="Liberation Serif" textLength="13.06" lengthAdjust="spacingAndGlyphs" stroke="#000" stroke-width="1.2">C</text>
<text transform="translate(236.25,1344.57) rotate(-90)" x="0" y="0" font-size="30.5" font-weight="bold" font-family="Liberation Serif" textLength="71.63" lengthAdjust="spacingAndGlyphs" stroke="#000" stroke-width="1.2">(mA)</text>
<rect x="443.9" y="2112.5" width="3.4" height="416.5" fill="#000"/>
<rect x="513.9" y="2112.5" width="3.4" height="416.5" fill="#000"/>
<rect x="583.9" y="2112.5" width="3.4" height="416.5" fill="#000"/>
<rect x="650.3" y="2112.5" width="3.4" height="416.5" fill="#000"/>
<rect x="718.7" y="2112.5" width="3.4" height="416.5" fill="#000"/>
<rect x="787.3" y="2112.5" width="3.4" height="416.5" fill="#000"/>
<rect x="857.3" y="2112.5" width="3.4" height="416.5" fill="#000"/>
<rect x="376.75" y="2494.63" width="551" height="3" fill="#000"/>
<rect x="376.75" y="2470.81" width="551" height="3" fill="#000"/>
<rect x="376.75" y="2458.4" width="551" height="3" fill="#000"/>
<rect x="376.75" y="2448.09" width="551" height="3" fill="#000"/>
<rect x="376.75" y="2438.45" width="551" height="3" fill="#000"/>
<rect x="376.75" y="2429.81" width="551" height="3" fill="#000"/>
<rect x="376.75" y="2423.27" width="551" height="3" fill="#000"/>
<rect x="376.75" y="2383.28" width="551" height="3" fill="#000"/>
<rect x="376.75" y="2359.07" width="551" height="3" fill="#000"/>
<rect x="376.75" y="2346.46" width="551" height="3" fill="#000"/>
<rect x="376.75" y="2335.99" width="551" height="3" fill="#000"/>
<rect x="376.75" y="2326.19" width="551" height="3" fill="#000"/>
<rect x="376.75" y="2317.41" width="551" height="3" fill="#000"/>
<rect x="376.75" y="2310.77" width="551" height="3" fill="#000"/>
<rect x="376.75" y="2270.74" width="551" height="3" fill="#000"/>
<rect x="376.75" y="2246.58" width="551" height="3" fill="#000"/>
<rect x="376.75" y="2233.99" width="551" height="3" fill="#000"/>
<rect x="376.75" y="2223.53" width="551" height="3" fill="#000"/>
<rect x="376.75" y="2213.76" width="551" height="3" fill="#000"/>
<rect x="376.75" y="2204.99" width="551" height="3" fill="#000"/>
<rect x="376.75" y="2198.36" width="551" height="3" fill="#000"/>
<rect x="376.75" y="2158.34" width="551" height="3" fill="#000"/>
<rect x="376.75" y="2134.18" width="551" height="3" fill="#000"/>
<rect x="376.75" y="2121.59" width="551" height="3" fill="#000"/>
<rect x="376.75" y="2415.9" width="551" height="6" fill="#000"/>
<rect x="376.75" y="2303.3" width="551" height="6" fill="#000"/>
<rect x="376.75" y="2190.9" width="551" height="6" fill="#000"/>
<rect x="653.7" y="2112.5" width="274.05" height="78.4" fill="#fff"/>
<rect x="376.75" y="2112.5" width="551" height="416.5" fill="none" stroke="#000" stroke-width="5"/>
<text x="675.51" y="2142.75" font-size="28.5" font-weight="bold" font-family="Liberation Serif" textLength="109.19" lengthAdjust="spacingAndGlyphs" stroke="#000" stroke-width="1.2">COMMON</text>
<text x="801.2" y="2142.75" font-size="28.5" font-weight="bold" font-family="Liberation Serif" textLength="109.99" lengthAdjust="spacingAndGlyphs" stroke="#000" stroke-width="1.2">EMITTER</text>
<text x="676.35" y="2170" font-size="28.5" font-weight="bold" font-family="Liberation Serif" textLength="15.79" lengthAdjust="spacingAndGlyphs" stroke="#000" stroke-width="1.2">V</text>
<text x="690.58" y="2176.5" font-size="26" font-weight="bold" font-family="Liberation Serif" textLength="28.88" lengthAdjust="spacingAndGlyphs" stroke="#000" stroke-width="1.2">CE</text>
<text x="724.11" y="2170" font-size="28.5" font-weight="bold" font-family="Liberation Serif" textLength="70.63" lengthAdjust="spacingAndGlyphs" stroke="#000" stroke-width="1.2">=−1V</text>
<g transform="translate(570.5,2393.8) rotate(-60)"><rect x="-4" y="-23" width="121" height="29" fill="#fff"/></g>
<g transform="translate(671.8,2375.2) rotate(-60)"><rect x="-4" y="-23" width="103" height="29" fill="#fff"/></g>
<g transform="translate(755.7,2393.8) rotate(-60)"><rect x="-4" y="-23" width="126" height="29" fill="#fff"/></g>
<path d="M536 2528 C536.37 2527.75 534.75 2537.23 538.2 2526.5 C541.65 2515.77 550.73 2482.3 556.7 2463.6 C562.67 2444.9 569.28 2427.03 574 2414.3 C578.72 2401.57 580.07 2397.48 585 2387.2 C589.93 2376.92 597.22 2364.12 603.6 2352.6 C609.98 2341.08 615.9 2329.2 623.3 2318.1 C630.7 2307 639.78 2295.05 648 2286 C656.22 2276.95 664.38 2270.37 672.6 2263.8 C680.82 2257.23 687.02 2252.75 697.3 2246.6 C707.58 2240.45 721.97 2233.88 734.3 2226.9 C746.63 2219.92 762.27 2210.85 771.3 2204.7 C780.33 2198.55 785.63 2192.45 788.5 2190" fill="none" stroke="#000" stroke-width="5" stroke-linejoin="round" stroke-linecap="butt"/>
<path d="M652.5 2528 C652.57 2527.55 651.6 2533.97 652.9 2525.3 C654.2 2516.63 657.02 2492.45 660.3 2476 C663.58 2459.55 667.67 2443.05 672.6 2426.6 C677.53 2410.15 683.73 2392.92 689.9 2377.3 C696.07 2361.68 703.43 2345.65 709.6 2332.9 C715.77 2320.15 720.73 2309.85 726.9 2300.8 C733.07 2291.75 739.2 2285.98 746.6 2278.6 C754 2271.22 763.08 2263.48 771.3 2256.5 C779.52 2249.52 786.45 2243.7 795.9 2236.7 C805.35 2229.7 816.9 2221.95 828 2214.5 C839.1 2207.05 856.75 2195.75 862.5 2192" fill="none" stroke="#000" stroke-width="5" stroke-linejoin="round" stroke-linecap="butt"/>
<path d="M722.5 2528 C722.62 2527.55 721.23 2533.97 723.2 2525.3 C725.17 2516.63 729.58 2492.45 734.3 2476 C739.02 2459.55 745.33 2443.05 751.5 2426.6 C757.67 2410.15 764.72 2391.68 771.3 2377.3 C777.88 2362.92 784.02 2353.45 791 2340.3 C797.98 2327.15 805.38 2311.55 813.2 2298.4 C821.02 2285.25 830.1 2272.92 837.9 2261.4 C845.7 2249.88 852.2 2240.6 860 2229.3 C867.8 2218 880.58 2199.55 884.7 2193.6" fill="none" stroke="#000" stroke-width="5" stroke-linejoin="round" stroke-linecap="butt"/>
<text transform="translate(570.5,2393.8) rotate(-60)" x="0" y="0" font-size="27" font-weight="bold" font-family="Liberation Serif" textLength="113" lengthAdjust="spacingAndGlyphs" stroke="#000" stroke-width="1.2">Ta=100˚C</text>
<text transform="translate(671.8,2375.2) rotate(-60)" x="0" y="0" font-size="27" font-weight="bold" font-family="Liberation Serif" textLength="95" lengthAdjust="spacingAndGlyphs" stroke="#000" stroke-width="1.2">Ta=25˚C</text>
<text transform="translate(755.7,2393.8) rotate(-60)" x="0" y="0" font-size="27" font-weight="bold" font-family="Liberation Serif" textLength="118" lengthAdjust="spacingAndGlyphs" stroke="#000" stroke-width="1.2">Ta=−25˚C</text>
<text x="307.54" y="2118" font-size="30.5" font-weight="bold" font-family="Liberation Serif" textLength="55.66" lengthAdjust="spacingAndGlyphs" stroke="#000" stroke-width="1.2">−5k</text>
<text x="307.54" y="2201.5" font-size="30.5" font-weight="bold" font-family="Liberation Serif" textLength="55.66" lengthAdjust="spacingAndGlyphs" stroke="#000" stroke-width="1.2">−1k</text>
<text x="292.55" y="2256.5" font-size="30.5" font-weight="bold" font-family="Liberation Serif" textLength="70.65" lengthAdjust="spacingAndGlyphs" stroke="#000" stroke-width="1.2">−300</text>
<text x="292.55" y="2316.5" font-size="30.5" font-weight="bold" font-family="Liberation Serif" textLength="70.65" lengthAdjust="spacingAndGlyphs" stroke="#000" stroke-width="1.2">−100</text>
<text x="308.77" y="2370" font-size="30.5" font-weight="bold" font-family="Liberation Serif" textLength="54.45" lengthAdjust="spacingAndGlyphs" stroke="#000" stroke-width="1.2">−30</text>
<text x="308.73" y="2427.75" font-size="30.5" font-weight="bold" font-family="Liberation Serif" textLength="55.78" lengthAdjust="spacingAndGlyphs" stroke="#000" stroke-width="1.2">−10</text>
<text x="323.65" y="2483" font-size="30.5" font-weight="bold" font-family="Liberation Serif" textLength="39.51" lengthAdjust="spacingAndGlyphs" stroke="#000" stroke-width="1.2">−3</text>
<text x="324.75" y="2540" font-size="30.5" font-weight="bold" font-family="Liberation Serif" textLength="37.46" lengthAdjust="spacingAndGlyphs" stroke="#000" stroke-width="1.2">−1</text>
<text x="333.68" y="2570" font-size="30.5" font-weight="bold" font-family="Liberation Serif" textLength="66.29" lengthAdjust="spacingAndGlyphs" stroke="#000" stroke-width="1.2">−0.2</text>
<text x="472.77" y="2570" font-size="30.5" font-weight="bold" font-family="Liberation Serif" textLength="63.28" lengthAdjust="spacingAndGlyphs" stroke="#000" stroke-width="1.2">−0.4</text>
<text x="609.72" y="2570" font-size="30.5" font-weight="bold" font-family="Liberation Serif" textLength="64.72" lengthAdjust="spacingAndGlyphs" stroke="#000" stroke-width="1.2">−0.6</text>
<text x="747.71" y="2570" font-size="30.5" font-weight="bold" font-family="Liberation Serif" textLength="65.39" lengthAdjust="spacingAndGlyphs" stroke="#000" stroke-width="1.2">−0.8</text>
<text x="886.23" y="2570" font-size="30.5" font-weight="bold" font-family="Liberation Serif" textLength="64.52" lengthAdjust="spacingAndGlyphs" stroke="#000" stroke-width="1.2">−1.0</text>
<text x="572.91" y="2070" font-size="38" font-weight="bold" font-family="Liberation Serif" textLength="16.69" lengthAdjust="spacingAndGlyphs" stroke="#000" stroke-width="1.2">I</text>
<text x="589.47" y="2076.5" font-size="29" font-weight="bold" font-family="Liberation Serif" textLength="16.69" lengthAdjust="spacingAndGlyphs" stroke="#000" stroke-width="1.2">C</text>
<text x="632.08" y="2070" font-size="38" font-weight="bold" font-family="Liberation Serif" textLength="24.58" lengthAdjust="spacingAndGlyphs" stroke="#000" stroke-width="1.2">−</text>
<text x="680.26" y="2070" font-size="38" font-weight="bold" font-family="Liberation Serif" textLength="21.98" lengthAdjust="spacingAndGlyphs" stroke="#000" stroke-width="1.2">V</text>
<text x="702.68" y="2076.5" font-size="29" font-weight="bold" font-family="Liberation Serif" textLength="34.03" lengthAdjust="spacingAndGlyphs" stroke="#000" stroke-width="1.2">BE</text>
<text x="416.15" y="2625" font-size="30.5" font-weight="bold" font-family="Liberation Serif" textLength="213.01" lengthAdjust="spacingAndGlyphs" stroke="#000" stroke-width="1.2">BASE−EMITTER</text>
<text x="649.07" y="2625" font-size="30.5" font-weight="bold" font-family="Liberation Serif" textLength="124.1" lengthAdjust="spacingAndGlyphs" stroke="#000" stroke-width="1.2">VOLTAGE</text>
<text x="790.34" y="2625" font-size="30.5" font-weight="bold" font-family="Liberation Serif" textLength="16.82" lengthAdjust="spacingAndGlyphs" stroke="#000" stroke-width="1.2">V</text>
<text x="806.18" y="2633" font-size="29" font-weight="bold" font-family="Liberation Serif" textLength="33.5" lengthAdjust="spacingAndGlyphs" stroke="#000" stroke-width="1.2">BE</text>
<text x="861.79" y="2625" font-size="30.5" font-weight="bold" font-family="Liberation Serif" textLength="41.42" lengthAdjust="spacingAndGlyphs" stroke="#000" stroke-width="1.2">(V)</text>
<text transform="translate(240,2544.17) rotate(-90)" x="0" y="0" font-size="30.5" font-weight="bold" font-family="Liberation Serif" textLength="166.85" lengthAdjust="spacingAndGlyphs" stroke="#000" stroke-width="1.2">COLLECTOR</text>
<text transform="translate(240,2363.27) rotate(-90)" x="0" y="0" font-size="30.5" font-weight="bold" font-family="Liberation Serif" textLength="138.59" lengthAdjust="spacingAndGlyphs" stroke="#000" stroke-width="1.2">CURRENT</text>
<text transform="translate(241,2220.88) rotate(-90)" x="0" y="0" font-size="30.5" font-weight="bold" font-family="Liberation Serif" textLength="10.16" lengthAdjust="spacingAndGlyphs" stroke="#000" stroke-width="1.2">I</text>
<text transform="translate(246,2206.53) rotate(-90)" x="0" y="0" font-size="30.5" font-weight="bold" font-family="Liberation Serif" textLength="16.69" lengthAdjust="spacingAndGlyphs" stroke="#000" stroke-width="1.2">C</text>
<text transform="translate(239.5,2156.38) rotate(-90)" x="0" y="0" font-size="30.5" font-weight="bold" font-family="Liberation Serif" textLength="74.76" lengthAdjust="spacingAndGlyphs" stroke="#000" stroke-width="1.2">(mA)</text>
<rect x="1317.5" y="359.5" width="3" height="417.1" fill="#000"/>
<rect x="1356.5" y="359.5" width="3" height="417.1" fill="#000"/>
<rect x="1376.5" y="359.5" width="3" height="417.1" fill="#000"/>
<rect x="1394" y="359.5" width="3" height="417.1" fill="#000"/>
<rect x="1409.1" y="359.5" width="3" height="417.1" fill="#000"/>
<rect x="1423.5" y="359.5" width="3" height="417.1" fill="#000"/>
<rect x="1434" y="359.5" width="3" height="417.1" fill="#000"/>
<rect x="1500" y="359.5" width="3" height="417.1" fill="#000"/>
<rect x="1539" y="359.5" width="3" height="417.1" fill="#000"/>
<rect x="1559.6" y="359.5" width="3" height="417.1" fill="#000"/>
<rect x="1576.5" y="359.5" width="3" height="417.1" fill="#000"/>
<rect x="1592" y="359.5" width="3" height="417.1" fill="#000"/>
<rect x="1606.1" y="359.5" width="3" height="417.1" fill="#000"/>
<rect x="1617" y="359.5" width="3" height="417.1" fill="#000"/>
<rect x="1683" y="359.5" width="3" height="417.1" fill="#000"/>
<rect x="1723" y="359.5" width="3" height="417.1" fill="#000"/>
<rect x="1742.1" y="359.5" width="3" height="417.1" fill="#000"/>
<rect x="1759.5" y="359.5" width="3" height="417.1" fill="#000"/>
<rect x="1775" y="359.5" width="3" height="417.1" fill="#000"/>
<rect x="1789" y="359.5" width="3" height="417.1" fill="#000"/>
<rect x="1799.5" y="359.5" width="3" height="417.1" fill="#000"/>
<rect x="1807.5" y="359.5" width="3" height="417.1" fill="#000"/>
<rect x="1442.5" y="359.5" width="6" height="417.1" fill="#000"/>
<rect x="1625.5" y="359.5" width="6" height="417.1" fill="#000"/>
<rect x="1264.6" y="391.5" width="551.9" height="3" fill="#000"/>
<rect x="1264.6" y="452.1" width="551.9" height="3" fill="#000"/>
<rect x="1264.6" y="462" width="551.9" height="3" fill="#000"/>
<rect x="1264.6" y="474.4" width="551.9" height="3" fill="#000"/>
<rect x="1264.6" y="488.9" width="551.9" height="3" fill="#000"/>
<rect x="1264.6" y="504.4" width="551.9" height="3" fill="#000"/>
<rect x="1264.6" y="522.8" width="551.9" height="3" fill="#000"/>
<rect x="1264.6" y="558.3" width="551.9" height="3" fill="#000"/>
<rect x="1264.6" y="619" width="551.9" height="3" fill="#000"/>
<rect x="1264.6" y="628.4" width="551.9" height="3" fill="#000"/>
<rect x="1264.6" y="641.4" width="551.9" height="3" fill="#000"/>
<rect x="1264.6" y="655.4" width="551.9" height="3" fill="#000"/>
<rect x="1264.6" y="671.5" width="551.9" height="3" fill="#000"/>
<rect x="1264.6" y="689.5" width="551.9" height="3" fill="#000"/>
<rect x="1264.6" y="724.9" width="551.9" height="3" fill="#000"/>
<rect x="1264.6" y="441.4" width="551.9" height="6" fill="#000"/>
<rect x="1264.6" y="608.4" width="551.9" height="6" fill="#000"/>
<rect x="1542" y="359.5" width="274.5" height="81.9" fill="#fff"/>
<rect x="1264.6" y="359.5" width="551.9" height="417.1" fill="none" stroke="#000" stroke-width="5"/>
<text x="1560.53" y="392.75" font-size="28.5" font-weight="bold" font-family="Liberation Serif" textLength="106.65" lengthAdjust="spacingAndGlyphs" stroke="#000" stroke-width="1.2">COMMON</text>
<text x="1686.21" y="392.75" font-size="28.5" font-weight="bold" font-family="Liberation Serif" textLength="108.99" lengthAdjust="spacingAndGlyphs" stroke="#000" stroke-width="1.2">EMITTER</text>
<text x="1561.38" y="426.5" font-size="28.5" font-weight="bold" font-family="Liberation Serif" textLength="14.24" lengthAdjust="spacingAndGlyphs" stroke="#000" stroke-width="1.2">V</text>
<text x="1575.07" y="433.5" font-size="26" font-weight="bold" font-family="Liberation Serif" textLength="29.42" lengthAdjust="spacingAndGlyphs" stroke="#000" stroke-width="1.2">CE</text>
<text x="1609.11" y="426.5" font-size="28.5" font-weight="bold" font-family="Liberation Serif" textLength="70.63" lengthAdjust="spacingAndGlyphs" stroke="#000" stroke-width="1.2">=−1V</text>
<rect x="1446" y="527" width="130" height="26" fill="#fff"/>
<rect x="1446" y="574" width="130" height="27" fill="#fff"/>
<rect x="1446" y="612" width="130" height="26" fill="#fff"/>
<path d="M1265 559 C1295.17 559 1390.17 558.92 1446 559 C1501.83 559.08 1567.67 559.17 1600 559.5 C1632.33 559.83 1626.67 559.75 1640 561 C1653.33 562.25 1666.67 564.25 1680 567 C1693.33 569.75 1705 572.42 1720 577.5 C1735 582.58 1757.5 591.58 1770 597.5 C1782.5 603.42 1787.5 607.58 1795 613 C1802.5 618.42 1811.67 627.17 1815 630" fill="none" stroke="#000" stroke-width="4.8" stroke-linejoin="round" stroke-linecap="butt"/>
<path d="M1265 574 C1279.17 573.5 1319.83 571.83 1350 571 C1380.17 570.17 1412.67 569.17 1446 569 C1479.33 568.83 1519 569.33 1550 570 C1581 570.67 1607.83 570.5 1632 573 C1656.17 575.5 1676.17 580.33 1695 585 C1713.83 589.67 1729.17 595.17 1745 601 C1760.83 606.83 1778.33 614 1790 620 C1801.67 626 1810.83 634.17 1815 637" fill="none" stroke="#000" stroke-width="4.5" stroke-linejoin="round" stroke-linecap="butt"/>
<path d="M1265 612.5 C1287.5 611.75 1362.5 609.08 1400 608 C1437.5 606.92 1460 606 1490 606 C1520 606 1556.33 607.17 1580 608 C1603.67 608.83 1608.67 609.42 1632 611 C1655.33 612.58 1697 614.75 1720 617.5 C1743 620.25 1754.17 623.42 1770 627.5 C1785.83 631.58 1807.5 639.58 1815 642" fill="none" stroke="#000" stroke-width="4.5" stroke-linejoin="round" stroke-linecap="butt"/>
<text x="1450.16" y="549" font-size="28" font-weight="bold" font-family="Liberation Serif" textLength="121.4" lengthAdjust="spacingAndGlyphs" stroke="#000" stroke-width="1.2">Ta=100˚C</text>
<text x="1450.16" y="596.5" font-size="28" font-weight="bold" font-family="Liberation Serif" textLength="106.38" lengthAdjust="spacingAndGlyphs" stroke="#000" stroke-width="1.2">Ta=25˚C</text>
<text x="1452.65" y="634" font-size="28" font-weight="bold" font-family="Liberation Serif" textLength="124.93" lengthAdjust="spacingAndGlyphs" stroke="#000" stroke-width="1.2">Ta=−25˚C</text>
<text x="1216.85" y="369" font-size="30.5" font-weight="bold" font-family="Liberation Serif" textLength="35.1" lengthAdjust="spacingAndGlyphs" stroke="#000" stroke-width="1.2">3k</text>
<text x="1215.32" y="454" font-size="30.5" font-weight="bold" font-family="Liberation Serif" textLength="36.63" lengthAdjust="spacingAndGlyphs" stroke="#000" stroke-width="1.2">1k</text>
<text x="1202.98" y="502.75" font-size="30.5" font-weight="bold" font-family="Liberation Serif" textLength="51.48" lengthAdjust="spacingAndGlyphs" stroke="#000" stroke-width="1.2">500</text>
<text x="1203.06" y="534" font-size="30.5" font-weight="bold" font-family="Liberation Serif" textLength="51.39" lengthAdjust="spacingAndGlyphs" stroke="#000" stroke-width="1.2">300</text>
<text x="1202.84" y="619" font-size="30.5" font-weight="bold" font-family="Liberation Serif" textLength="51.62" lengthAdjust="spacingAndGlyphs" stroke="#000" stroke-width="1.2">100</text>
<text x="1221.74" y="670" font-size="30.5" font-weight="bold" font-family="Liberation Serif" textLength="33.95" lengthAdjust="spacingAndGlyphs" stroke="#000" stroke-width="1.2">50</text>
<text x="1221.83" y="702.75" font-size="30.5" font-weight="bold" font-family="Liberation Serif" textLength="33.86" lengthAdjust="spacingAndGlyphs" stroke="#000" stroke-width="1.2">30</text>
<text x="1221.62" y="786.5" font-size="30.5" font-weight="bold" font-family="Liberation Serif" textLength="34.08" lengthAdjust="spacingAndGlyphs" stroke="#000" stroke-width="1.2">10</text>
<text x="1236.34" y="817.75" font-size="30.5" font-weight="bold" font-family="Liberation Serif" textLength="35.8" lengthAdjust="spacingAndGlyphs" stroke="#000" stroke-width="1.2">−1</text>
<text x="1328.73" y="817.75" font-size="30.5" font-weight="bold" font-family="Liberation Serif" textLength="37.88" lengthAdjust="spacingAndGlyphs" stroke="#000" stroke-width="1.2">−3</text>
<text x="1411.24" y="817.75" font-size="30.5" font-weight="bold" font-family="Liberation Serif" textLength="55.51" lengthAdjust="spacingAndGlyphs" stroke="#000" stroke-width="1.2">−10</text>
<text x="1504.75" y="817.75" font-size="30.5" font-weight="bold" font-family="Liberation Serif" textLength="54.98" lengthAdjust="spacingAndGlyphs" stroke="#000" stroke-width="1.2">−30</text>
<text x="1583.77" y="817.75" font-size="30.5" font-weight="bold" font-family="Liberation Serif" textLength="71.96" lengthAdjust="spacingAndGlyphs" stroke="#000" stroke-width="1.2">−100</text>
<text x="1681.27" y="817.75" font-size="30.5" font-weight="bold" font-family="Liberation Serif" textLength="71.96" lengthAdjust="spacingAndGlyphs" stroke="#000" stroke-width="1.2">−300</text>
<text x="1779.74" y="817.75" font-size="30.5" font-weight="bold" font-family="Liberation Serif" textLength="57.21" lengthAdjust="spacingAndGlyphs" stroke="#000" stroke-width="1.2">−1k</text>
<text x="1303.16" y="871.5" font-size="30.5" font-weight="bold" font-family="Liberation Serif" textLength="156.03" lengthAdjust="spacingAndGlyphs" stroke="#000" stroke-width="1.2">COLLECTOR</text>
<text x="1479.29" y="871.5" font-size="30.5" font-weight="bold" font-family="Liberation Serif" textLength="132.51" lengthAdjust="spacingAndGlyphs" stroke="#000" stroke-width="1.2">CURRENT</text>
<text x="1629.57" y="871.5" font-size="30.5" font-weight="bold" font-family="Liberation Serif" textLength="11.85" lengthAdjust="spacingAndGlyphs" stroke="#000" stroke-width="1.2">I</text>
<text x="1646.85" y="876.5" font-size="29" font-weight="bold" font-family="Liberation Serif" textLength="18.5" lengthAdjust="spacingAndGlyphs" stroke="#000" stroke-width="1.2">C</text>
<text x="1694.16" y="871.5" font-size="30.5" font-weight="bold" font-family="Liberation Serif" textLength="72.68" lengthAdjust="spacingAndGlyphs" stroke="#000" stroke-width="1.2">(mA)</text>
<text x="1450.5" y="316.5" font-size="38" font-weight="bold" font-family="Liberation Serif" textLength="24.57" lengthAdjust="spacingAndGlyphs" stroke="#000" stroke-width="1.2">h</text>
<text x="1476.16" y="321" font-size="30" font-weight="bold" font-family="Liberation Serif" textLength="32.54" lengthAdjust="spacingAndGlyphs" stroke="#000" stroke-width="1.2">FE</text>
<text x="1544.3" y="316.5" font-size="38" font-weight="bold" font-family="Liberation Serif" textLength="24.88" lengthAdjust="spacingAndGlyphs" stroke="#000" stroke-width="1.2">−</text>
<text x="1593.3" y="316.5" font-size="38" font-weight="bold" font-family="Liberation Serif" textLength="12.15" lengthAdjust="spacingAndGlyphs" stroke="#000" stroke-width="1.2">I</text>
<text x="1609.47" y="321" font-size="30" font-weight="bold" font-family="Liberation Serif" textLength="16.69" lengthAdjust="spacingAndGlyphs" stroke="#000" stroke-width="1.2">C</text>
<text transform="translate(1135,736.43) rotate(-90)" x="0" y="0" font-size="30.5" font-weight="bold" font-family="Liberation Serif" textLength="43.63" lengthAdjust="spacingAndGlyphs" stroke="#000" stroke-width="1.2">DC</text>
<text transform="translate(1135,679.58) rotate(-90)" x="0" y="0" font-size="30.5" font-weight="bold" font-family="Liberation Serif" textLength="119.34" lengthAdjust="spacingAndGlyphs" stroke="#000" stroke-width="1.2">CURRENT</text>
<text transform="translate(1135,545.28) rotate(-90)" x="0" y="0" font-size="30.5" font-weight="bold" font-family="Liberation Serif" textLength="73.55" lengthAdjust="spacingAndGlyphs" stroke="#000" stroke-width="1.2">GAIN</text>
<text transform="translate(1135,455.31) rotate(-90)" x="0" y="0" font-size="30.5" font-weight="bold" font-family="Liberation Serif" textLength="20.26" lengthAdjust="spacingAndGlyphs" stroke="#000" stroke-width="1.2">h</text>
<text transform="translate(1136.5,431.34) rotate(-90)" x="0" y="0" font-size="23" font-weight="bold" font-family="Liberation Serif" textLength="33.07" lengthAdjust="spacingAndGlyphs" stroke="#000" stroke-width="1.2">FE</text>
<rect x="1317.5" y="1047.5" width="3" height="324" fill="#000"/>
<rect x="1356.5" y="1047.5" width="3" height="324" fill="#000"/>
<rect x="1376.5" y="1047.5" width="3" height="324" fill="#000"/>
<rect x="1394" y="1047.5" width="3" height="324" fill="#000"/>
<rect x="1409.1" y="1047.5" width="3" height="324" fill="#000"/>
<rect x="1423.5" y="1047.5" width="3" height="324" fill="#000"/>
<rect x="1434" y="1047.5" width="3" height="324" fill="#000"/>
<rect x="1500" y="1047.5" width="3" height="324" fill="#000"/>
<rect x="1539" y="1047.5" width="3" height="324" fill="#000"/>
<rect x="1559.6" y="1047.5" width="3" height="324" fill="#000"/>
<rect x="1576.5" y="1047.5" width="3" height="324" fill="#000"/>
<rect x="1592" y="1047.5" width="3" height="324" fill="#000"/>
<rect x="1606.1" y="1047.5" width="3" height="324" fill="#000"/>
<rect x="1617" y="1047.5" width="3" height="324" fill="#000"/>
<rect x="1683" y="1047.5" width="3" height="324" fill="#000"/>
<rect x="1723" y="1047.5" width="3" height="324" fill="#000"/>
<rect x="1742.1" y="1047.5" width="3" height="324" fill="#000"/>
<rect x="1759.5" y="1047.5" width="3" height="324" fill="#000"/>
<rect x="1775" y="1047.5" width="3" height="324" fill="#000"/>
<rect x="1789" y="1047.5" width="3" height="324" fill="#000"/>
<rect x="1799.5" y="1047.5" width="3" height="324" fill="#000"/>
<rect x="1807.5" y="1047.5" width="3" height="324" fill="#000"/>
<rect x="1442.5" y="1047.5" width="6" height="324" fill="#000"/>
<rect x="1625.5" y="1047.5" width="6" height="324" fill="#000"/>
<rect x="1264.6" y="1074" width="551.9" height="3" fill="#000"/>
<rect x="1264.6" y="1120.4" width="551.9" height="3" fill="#000"/>
<rect x="1264.6" y="1127.9" width="551.9" height="3" fill="#000"/>
<rect x="1264.6" y="1137.9" width="551.9" height="3" fill="#000"/>
<rect x="1264.6" y="1149.1" width="551.9" height="3" fill="#000"/>
<rect x="1264.6" y="1161.5" width="551.9" height="3" fill="#000"/>
<rect x="1264.6" y="1175.5" width="551.9" height="3" fill="#000"/>
<rect x="1264.6" y="1203.3" width="551.9" height="3" fill="#000"/>
<rect x="1264.6" y="1249.1" width="551.9" height="3" fill="#000"/>
<rect x="1264.6" y="1256.6" width="551.9" height="3" fill="#000"/>
<rect x="1264.6" y="1266.6" width="551.9" height="3" fill="#000"/>
<rect x="1264.6" y="1277.7" width="551.9" height="3" fill="#000"/>
<rect x="1264.6" y="1289.5" width="551.9" height="3" fill="#000"/>
<rect x="1264.6" y="1303.9" width="551.9" height="3" fill="#000"/>
<rect x="1264.6" y="1331.3" width="551.9" height="3" fill="#000"/>
<rect x="1264.6" y="1111.8" width="551.9" height="6" fill="#000"/>
<rect x="1264.6" y="1240.5" width="551.9" height="6" fill="#000"/>
<rect x="1542" y="1047.5" width="274.5" height="64.3" fill="#fff"/>
<rect x="1264.6" y="1047.5" width="551.9" height="324" fill="none" stroke="#000" stroke-width="5"/>
<text x="1572.02" y="1075.25" font-size="28.5" font-weight="bold" font-family="Liberation Serif" textLength="107.67" lengthAdjust="spacingAndGlyphs" stroke="#000" stroke-width="1.2">COMMON</text>
<text x="1696.21" y="1075.25" font-size="28.5" font-weight="bold" font-family="Liberation Serif" textLength="108.99" lengthAdjust="spacingAndGlyphs" stroke="#000" stroke-width="1.2">EMITTER</text>
<text x="1570.68" y="1102.75" font-size="28.5" font-weight="bold" font-family="Liberation Serif" textLength="10.64" lengthAdjust="spacingAndGlyphs" stroke="#000" stroke-width="1.2">I</text>
<text x="1580.55" y="1105" font-size="25" font-weight="bold" font-family="Liberation Serif" textLength="15.48" lengthAdjust="spacingAndGlyphs" stroke="#000" stroke-width="1.2">C</text>
<text x="1595.97" y="1102.75" font-size="28.5" font-weight="bold" font-family="Liberation Serif" textLength="10.54" lengthAdjust="spacingAndGlyphs" stroke="#000" stroke-width="1.2">/</text>
<text x="1608.57" y="1102.75" font-size="28.5" font-weight="bold" font-family="Liberation Serif" textLength="11.85" lengthAdjust="spacingAndGlyphs" stroke="#000" stroke-width="1.2">I</text>
<text x="1621.15" y="1105" font-size="25" font-weight="bold" font-family="Liberation Serif" textLength="18" lengthAdjust="spacingAndGlyphs" stroke="#000" stroke-width="1.2">B</text>
<text x="1638.96" y="1102.75" font-size="28.5" font-weight="bold" font-family="Liberation Serif" textLength="51.64" lengthAdjust="spacingAndGlyphs" stroke="#000" stroke-width="1.2">=25</text>
<rect x="1318" y="1257" width="130" height="25" fill="#fff"/>
<rect x="1325" y="1311" width="131" height="24" fill="#fff"/>
<rect x="1457" y="1242" width="120" height="26" fill="#fff"/>
<path d="M1265 1285 C1287.5 1285.25 1361.67 1286.98 1400 1286.51 C1438.33 1286.04 1468.33 1283.93 1495 1282.16 C1521.67 1280.4 1539.17 1278.5 1560 1275.93 C1580.83 1273.35 1599.67 1272.12 1620 1266.71 C1640.33 1261.3 1661.17 1253.06 1682 1243.48 C1702.83 1233.91 1728.67 1218.48 1745 1209.25 C1761.33 1200.03 1768.33 1195 1780 1188.13 C1791.67 1181.25 1809.17 1171.35 1815 1168" fill="none" stroke="#000" stroke-width="4.4" stroke-linejoin="round" stroke-linecap="butt"/>
<path d="M1265 1289 C1287.5 1289.33 1361.67 1291.33 1400 1291 C1438.33 1290.67 1468.33 1288.67 1495 1287 C1521.67 1285.33 1539.17 1283.5 1560 1281 C1580.83 1278.5 1599.67 1277.33 1620 1272 C1640.33 1266.67 1661.17 1258.5 1682 1249 C1702.83 1239.5 1728.67 1224.17 1745 1215 C1761.33 1205.83 1768.33 1200.83 1780 1194 C1791.67 1187.17 1809.17 1177.33 1815 1174" fill="none" stroke="#000" stroke-width="4.4" stroke-linejoin="round" stroke-linecap="butt"/>
<path d="M1265 1293 C1287.5 1293.42 1361.67 1295.68 1400 1295.49 C1438.33 1295.3 1468.33 1293.41 1495 1291.84 C1521.67 1290.27 1539.17 1288.5 1560 1286.07 C1580.83 1283.65 1599.67 1282.55 1620 1277.29 C1640.33 1272.03 1661.17 1263.94 1682 1254.52 C1702.83 1245.09 1728.67 1229.85 1745 1220.75 C1761.33 1211.64 1768.33 1206.66 1780 1199.87 C1791.67 1193.08 1809.17 1183.31 1815 1180" fill="none" stroke="#000" stroke-width="4.4" stroke-linejoin="round" stroke-linecap="butt"/>
<text x="1321.14" y="1278" font-size="27" font-weight="bold" font-family="Liberation Serif" textLength="125.48" lengthAdjust="spacingAndGlyphs" stroke="#000" stroke-width="1.2">Ta=100˚C</text>
<text x="1329.15" y="1331.5" font-size="27" font-weight="bold" font-family="Liberation Serif" textLength="124.93" lengthAdjust="spacingAndGlyphs" stroke="#000" stroke-width="1.2">Ta=−25˚C</text>
<text x="1462.67" y="1264" font-size="27" font-weight="bold" font-family="Liberation Serif" textLength="103.81" lengthAdjust="spacingAndGlyphs" stroke="#000" stroke-width="1.2">Ta=25˚C</text>
<path d="M1358.75 1280 L1362 1292" fill="none" stroke="#000" stroke-width="2.5" stroke-linejoin="round" stroke-linecap="butt"/>
<path d="M1365 1297.5 L1383.75 1317.5" fill="none" stroke="#000" stroke-width="2.5" stroke-linejoin="round" stroke-linecap="butt"/>
<path d="M1500 1265 L1480 1286" fill="none" stroke="#000" stroke-width="2.5" stroke-linejoin="round" stroke-linecap="butt"/>
<text x="1216.22" y="1054" font-size="30.5" font-weight="bold" font-family="Liberation Serif" textLength="38.15" lengthAdjust="spacingAndGlyphs" stroke="#000" stroke-width="1.2">−3</text>
<text x="1217.57" y="1125" font-size="30.5" font-weight="bold" font-family="Liberation Serif" textLength="36.07" lengthAdjust="spacingAndGlyphs" stroke="#000" stroke-width="1.2">−1</text>
<text x="1189.73" y="1185" font-size="30.5" font-weight="bold" font-family="Liberation Serif" textLength="64.64" lengthAdjust="spacingAndGlyphs" stroke="#000" stroke-width="1.2">−0.3</text>
<text x="1189.71" y="1253" font-size="30.5" font-weight="bold" font-family="Liberation Serif" textLength="65.3" lengthAdjust="spacingAndGlyphs" stroke="#000" stroke-width="1.2">−0.1</text>
<text x="1171.24" y="1315" font-size="30.5" font-weight="bold" font-family="Liberation Serif" textLength="81.87" lengthAdjust="spacingAndGlyphs" stroke="#000" stroke-width="1.2">−0.03</text>
<text x="1174.75" y="1386.5" font-size="30.5" font-weight="bold" font-family="Liberation Serif" textLength="81.47" lengthAdjust="spacingAndGlyphs" stroke="#000" stroke-width="1.2">−0.01</text>
<text x="1236.34" y="1412.75" font-size="30.5" font-weight="bold" font-family="Liberation Serif" textLength="35.8" lengthAdjust="spacingAndGlyphs" stroke="#000" stroke-width="1.2">−1</text>
<text x="1328.73" y="1412.75" font-size="30.5" font-weight="bold" font-family="Liberation Serif" textLength="37.88" lengthAdjust="spacingAndGlyphs" stroke="#000" stroke-width="1.2">−3</text>
<text x="1411.24" y="1412.75" font-size="30.5" font-weight="bold" font-family="Liberation Serif" textLength="55.51" lengthAdjust="spacingAndGlyphs" stroke="#000" stroke-width="1.2">−10</text>
<text x="1504.75" y="1412.75" font-size="30.5" font-weight="bold" font-family="Liberation Serif" textLength="54.98" lengthAdjust="spacingAndGlyphs" stroke="#000" stroke-width="1.2">−30</text>
<text x="1583.77" y="1412.75" font-size="30.5" font-weight="bold" font-family="Liberation Serif" textLength="71.96" lengthAdjust="spacingAndGlyphs" stroke="#000" stroke-width="1.2">−100</text>
<text x="1681.27" y="1412.75" font-size="30.5" font-weight="bold" font-family="Liberation Serif" textLength="71.96" lengthAdjust="spacingAndGlyphs" stroke="#000" stroke-width="1.2">−300</text>
<text x="1779.74" y="1412.75" font-size="30.5" font-weight="bold" font-family="Liberation Serif" textLength="57.21" lengthAdjust="spacingAndGlyphs" stroke="#000" stroke-width="1.2">−1k</text>
<text x="1307.16" y="1467.75" font-size="30.5" font-weight="bold" font-family="Liberation Serif" textLength="156.03" lengthAdjust="spacingAndGlyphs" stroke="#000" stroke-width="1.2">COLLECTOR</text>
<text x="1483.29" y="1467.75" font-size="30.5" font-weight="bold" font-family="Liberation Serif" textLength="132.51" lengthAdjust="spacingAndGlyphs" stroke="#000" stroke-width="1.2">CURRENT</text>
<text x="1633.57" y="1467.75" font-size="30.5" font-weight="bold" font-family="Liberation Serif" textLength="11.85" lengthAdjust="spacingAndGlyphs" stroke="#000" stroke-width="1.2">I</text>
<text x="1650.85" y="1472.75" font-size="29" font-weight="bold" font-family="Liberation Serif" textLength="18.5" lengthAdjust="spacingAndGlyphs" stroke="#000" stroke-width="1.2">C</text>
<text x="1698.16" y="1467.75" font-size="30.5" font-weight="bold" font-family="Liberation Serif" textLength="72.68" lengthAdjust="spacingAndGlyphs" stroke="#000" stroke-width="1.2">(mA)</text>
<text x="1424.25" y="1004" font-size="38" font-weight="bold" font-family="Liberation Serif" textLength="22.5" lengthAdjust="spacingAndGlyphs" stroke="#000" stroke-width="1.2">V</text>
<text x="1446.98" y="1006.5" font-size="29" font-weight="bold" font-family="Liberation Serif" textLength="95.5" lengthAdjust="spacingAndGlyphs" stroke="#000" stroke-width="1.2">CE(sat)</text>
<text x="1559.13" y="1004" font-size="38" font-weight="bold" font-family="Liberation Serif" textLength="26.72" lengthAdjust="spacingAndGlyphs" stroke="#000" stroke-width="1.2">−</text>
<text x="1608.23" y="1004" font-size="38" font-weight="bold" font-family="Liberation Serif" textLength="13.55" lengthAdjust="spacingAndGlyphs" stroke="#000" stroke-width="1.2">I</text>
<text x="1625.24" y="1005" font-size="29" font-weight="bold" font-family="Liberation Serif" textLength="17.17" lengthAdjust="spacingAndGlyphs" stroke="#000" stroke-width="1.2">C</text>
<text transform="translate(1130,1453.18) rotate(-90)" x="0" y="0" font-size="30.5" font-weight="bold" font-family="Liberation Serif" textLength="307.35" lengthAdjust="spacingAndGlyphs" stroke="#000" stroke-width="1.2">COLLECTOR−EMITTER</text>
<text transform="translate(1130,1125.82) rotate(-90)" x="0" y="0" font-size="30.5" font-weight="bold" font-family="Liberation Serif" textLength="178.07" lengthAdjust="spacingAndGlyphs" stroke="#000" stroke-width="1.2">SATURATION</text>
<text transform="translate(1161.5,1075.85) rotate(-90)" x="0" y="0" font-size="30.5" font-weight="bold" font-family="Liberation Serif" textLength="45.69" lengthAdjust="spacingAndGlyphs" stroke="#000" stroke-width="1.2">(V)</text>
<text transform="translate(1161,1364.68) rotate(-90)" x="0" y="0" font-size="30.5" font-weight="bold" font-family="Liberation Serif" textLength="124.35" lengthAdjust="spacingAndGlyphs" stroke="#000" stroke-width="1.2">VOLTAGE</text>
<text transform="translate(1161,1222.24) rotate(-90)" x="0" y="0" font-size="30.5" font-weight="bold" font-family="Liberation Serif" textLength="21.98" lengthAdjust="spacingAndGlyphs" stroke="#000" stroke-width="1.2">V</text>
<text transform="translate(1170.5,1202.35) rotate(-90)" x="0" y="0" font-size="28" font-weight="bold" font-family="Liberation Serif" textLength="97.05" lengthAdjust="spacingAndGlyphs" stroke="#000" stroke-width="1.2">CE(sat)</text>
<rect x="1317.5" y="1636.6" width="3" height="324.4" fill="#000"/>
<rect x="1356.5" y="1636.6" width="3" height="324.4" fill="#000"/>
<rect x="1376.5" y="1636.6" width="3" height="324.4" fill="#000"/>
<rect x="1394" y="1636.6" width="3" height="324.4" fill="#000"/>
<rect x="1409.1" y="1636.6" width="3" height="324.4" fill="#000"/>
<rect x="1423.5" y="1636.6" width="3" height="324.4" fill="#000"/>
<rect x="1434" y="1636.6" width="3" height="324.4" fill="#000"/>
<rect x="1500" y="1636.6" width="3" height="324.4" fill="#000"/>
<rect x="1539" y="1636.6" width="3" height="324.4" fill="#000"/>
<rect x="1559.6" y="1636.6" width="3" height="324.4" fill="#000"/>
<rect x="1576.5" y="1636.6" width="3" height="324.4" fill="#000"/>
<rect x="1592" y="1636.6" width="3" height="324.4" fill="#000"/>
<rect x="1606.1" y="1636.6" width="3" height="324.4" fill="#000"/>
<rect x="1617" y="1636.6" width="3" height="324.4" fill="#000"/>
<rect x="1683" y="1636.6" width="3" height="324.4" fill="#000"/>
<rect x="1723" y="1636.6" width="3" height="324.4" fill="#000"/>
<rect x="1742.1" y="1636.6" width="3" height="324.4" fill="#000"/>
<rect x="1759.5" y="1636.6" width="3" height="324.4" fill="#000"/>
<rect x="1775" y="1636.6" width="3" height="324.4" fill="#000"/>
<rect x="1789" y="1636.6" width="3" height="324.4" fill="#000"/>
<rect x="1799.5" y="1636.6" width="3" height="324.4" fill="#000"/>
<rect x="1807.5" y="1636.6" width="3" height="324.4" fill="#000"/>
<rect x="1442.5" y="1636.6" width="6" height="324.4" fill="#000"/>
<rect x="1625.5" y="1636.6" width="6" height="324.4" fill="#000"/>
<rect x="1264.6" y="1714.75" width="551.9" height="3" fill="#000"/>
<rect x="1264.6" y="1674.1" width="551.9" height="3" fill="#000"/>
<rect x="1264.6" y="1653.9" width="551.9" height="3" fill="#000"/>
<rect x="1264.6" y="1782.9" width="551.9" height="3" fill="#000"/>
<rect x="1264.6" y="1794" width="551.9" height="3" fill="#000"/>
<rect x="1264.6" y="1808.5" width="551.9" height="3" fill="#000"/>
<rect x="1264.6" y="1823.9" width="551.9" height="3" fill="#000"/>
<rect x="1264.6" y="1841.5" width="551.9" height="3" fill="#000"/>
<rect x="1264.6" y="1863.1" width="551.9" height="3" fill="#000"/>
<rect x="1264.6" y="1902.9" width="551.9" height="3" fill="#000"/>
<rect x="1264.6" y="1771.4" width="270.4" height="6" fill="#000"/>
<rect x="1535" y="1771.4" width="281.5" height="3.2" fill="#000"/>
<rect x="1542" y="1636.6" width="274.5" height="78.15" fill="#fff"/>
<rect x="1264.6" y="1636.6" width="551.9" height="324.4" fill="none" stroke="#000" stroke-width="5"/>
<text x="1558.51" y="1667.75" font-size="28.5" font-weight="bold" font-family="Liberation Serif" textLength="108.68" lengthAdjust="spacingAndGlyphs" stroke="#000" stroke-width="1.2">COMMON</text>
<text x="1684.2" y="1667.75" font-size="28.5" font-weight="bold" font-family="Liberation Serif" textLength="109.99" lengthAdjust="spacingAndGlyphs" stroke="#000" stroke-width="1.2">EMITTER</text>
<text x="1559.36" y="1700" font-size="28.5" font-weight="bold" font-family="Liberation Serif" textLength="15.28" lengthAdjust="spacingAndGlyphs" stroke="#000" stroke-width="1.2">V</text>
<text x="1574.55" y="1708" font-size="26" font-weight="bold" font-family="Liberation Serif" textLength="29.96" lengthAdjust="spacingAndGlyphs" stroke="#000" stroke-width="1.2">CE</text>
<text x="1608.14" y="1700" font-size="28.5" font-weight="bold" font-family="Liberation Serif" textLength="69.09" lengthAdjust="spacingAndGlyphs" stroke="#000" stroke-width="1.2">=−5V</text>
<text x="1706.18" y="1700" font-size="28.5" font-weight="bold" font-family="Liberation Serif" textLength="102.79" lengthAdjust="spacingAndGlyphs" stroke="#000" stroke-width="1.2">Ta=25˚C</text>
<path d="M1265 1840 C1269.17 1836.83 1281.67 1827 1290 1821 C1298.33 1815 1306.67 1809.33 1315 1804 C1323.33 1798.67 1331.67 1793.42 1340 1789 C1348.33 1784.58 1352.5 1781.92 1365 1777.5 C1377.5 1773.08 1393.33 1767.08 1415 1762.5 C1436.67 1757.92 1470 1752.75 1495 1750 C1520 1747.25 1545.83 1746.33 1565 1746 C1584.17 1745.67 1598.5 1746.5 1610 1748 C1621.5 1749.5 1630 1753.83 1634 1755" fill="none" stroke="#000" stroke-width="4.6" stroke-linejoin="round" stroke-linecap="butt"/>
<text x="1201.69" y="1643" font-size="30.5" font-weight="bold" font-family="Liberation Serif" textLength="52.8" lengthAdjust="spacingAndGlyphs" stroke="#000" stroke-width="1.2">500</text>
<text x="1200.31" y="1686.5" font-size="30.5" font-weight="bold" font-family="Liberation Serif" textLength="51.39" lengthAdjust="spacingAndGlyphs" stroke="#000" stroke-width="1.2">300</text>
<text x="1198.77" y="1779" font-size="30.5" font-weight="bold" font-family="Liberation Serif" textLength="52.97" lengthAdjust="spacingAndGlyphs" stroke="#000" stroke-width="1.2">100</text>
<text x="1216.83" y="1873" font-size="30.5" font-weight="bold" font-family="Liberation Serif" textLength="33.86" lengthAdjust="spacingAndGlyphs" stroke="#000" stroke-width="1.2">30</text>
<text x="1215.26" y="1974" font-size="30.5" font-weight="bold" font-family="Liberation Serif" textLength="35.49" lengthAdjust="spacingAndGlyphs" stroke="#000" stroke-width="1.2">10</text>
<text x="1236.34" y="2001.5" font-size="30.5" font-weight="bold" font-family="Liberation Serif" textLength="35.8" lengthAdjust="spacingAndGlyphs" stroke="#000" stroke-width="1.2">−1</text>
<text x="1328.73" y="2001.5" font-size="30.5" font-weight="bold" font-family="Liberation Serif" textLength="37.88" lengthAdjust="spacingAndGlyphs" stroke="#000" stroke-width="1.2">−3</text>
<text x="1411.24" y="2001.5" font-size="30.5" font-weight="bold" font-family="Liberation Serif" textLength="55.51" lengthAdjust="spacingAndGlyphs" stroke="#000" stroke-width="1.2">−10</text>
<text x="1504.75" y="2001.5" font-size="30.5" font-weight="bold" font-family="Liberation Serif" textLength="54.98" lengthAdjust="spacingAndGlyphs" stroke="#000" stroke-width="1.2">−30</text>
<text x="1583.77" y="2001.5" font-size="30.5" font-weight="bold" font-family="Liberation Serif" textLength="71.96" lengthAdjust="spacingAndGlyphs" stroke="#000" stroke-width="1.2">−100</text>
<text x="1681.27" y="2001.5" font-size="30.5" font-weight="bold" font-family="Liberation Serif" textLength="71.96" lengthAdjust="spacingAndGlyphs" stroke="#000" stroke-width="1.2">−300</text>
<text x="1779.74" y="2001.5" font-size="30.5" font-weight="bold" font-family="Liberation Serif" textLength="57.21" lengthAdjust="spacingAndGlyphs" stroke="#000" stroke-width="1.2">−1k</text>
<text x="1307.16" y="2056.5" font-size="30.5" font-weight="bold" font-family="Liberation Serif" textLength="156.03" lengthAdjust="spacingAndGlyphs" stroke="#000" stroke-width="1.2">COLLECTOR</text>
<text x="1483.29" y="2056.5" font-size="30.5" font-weight="bold" font-family="Liberation Serif" textLength="132.51" lengthAdjust="spacingAndGlyphs" stroke="#000" stroke-width="1.2">CURRENT</text>
<text x="1633.57" y="2056.5" font-size="30.5" font-weight="bold" font-family="Liberation Serif" textLength="11.85" lengthAdjust="spacingAndGlyphs" stroke="#000" stroke-width="1.2">I</text>
<text x="1650.85" y="2061.5" font-size="29" font-weight="bold" font-family="Liberation Serif" textLength="18.5" lengthAdjust="spacingAndGlyphs" stroke="#000" stroke-width="1.2">C</text>
<text x="1698.16" y="2056.5" font-size="30.5" font-weight="bold" font-family="Liberation Serif" textLength="72.68" lengthAdjust="spacingAndGlyphs" stroke="#000" stroke-width="1.2">(mA)</text>
<text x="1454.28" y="1592.8" font-size="38" font-weight="bold" font-family="Liberation Serif" textLength="14.69" lengthAdjust="spacingAndGlyphs" stroke="#000" stroke-width="1.2">f</text>
<text x="1471.82" y="1599.5" font-size="30" font-weight="bold" font-family="Liberation Serif" textLength="16.25" lengthAdjust="spacingAndGlyphs" stroke="#000" stroke-width="1.2">T</text>
<text x="1515.26" y="1592.8" font-size="38" font-weight="bold" font-family="Liberation Serif" textLength="25.25" lengthAdjust="spacingAndGlyphs" stroke="#000" stroke-width="1.2">−</text>
<text x="1563.25" y="1592.8" font-size="38" font-weight="bold" font-family="Liberation Serif" textLength="13.3" lengthAdjust="spacingAndGlyphs" stroke="#000" stroke-width="1.2">I</text>
<text x="1581.47" y="1597.5" font-size="30" font-weight="bold" font-family="Liberation Serif" textLength="16.69" lengthAdjust="spacingAndGlyphs" stroke="#000" stroke-width="1.2">C</text>
<text transform="translate(1131.5,1945.81) rotate(-90)" x="0" y="0" font-size="30.5" font-weight="bold" font-family="Liberation Serif" textLength="166.06" lengthAdjust="spacingAndGlyphs" stroke="#000" stroke-width="1.2">TRANSITION</text>
<text transform="translate(1131.5,1760.37) rotate(-90)" x="0" y="0" font-size="30.5" font-weight="bold" font-family="Liberation Serif" textLength="174.5" lengthAdjust="spacingAndGlyphs" stroke="#000" stroke-width="1.2">FREQUENCY</text>
<text transform="translate(1168,1786.58) rotate(-90)" x="0" y="0" font-size="30.5" font-weight="bold" font-family="Liberation Serif" textLength="76.16" lengthAdjust="spacingAndGlyphs" stroke="#000" stroke-width="1.2">(MHz)</text>
<text transform="translate(1168,1842.64) rotate(-90)" x="0" y="0" font-size="30.5" font-weight="bold" font-family="Liberation Serif" textLength="10.72" lengthAdjust="spacingAndGlyphs" stroke="#000" stroke-width="1.2">f</text>
<text transform="translate(1177,1828.76) rotate(-90)" x="0" y="0" font-size="30" font-weight="bold" font-family="Liberation Serif" textLength="15.52" lengthAdjust="spacingAndGlyphs" stroke="#000" stroke-width="1.2">T</text>
<rect x="1342.09" y="2206.25" width="3.4" height="323.75" fill="#000"/>
<rect x="1420.87" y="2206.25" width="3.4" height="323.75" fill="#000"/>
<rect x="1499.66" y="2206.25" width="3.4" height="323.75" fill="#000"/>
<rect x="1578.44" y="2206.25" width="3.4" height="323.75" fill="#000"/>
<rect x="1657.23" y="2206.25" width="3.4" height="323.75" fill="#000"/>
<rect x="1736.01" y="2206.25" width="3.4" height="323.75" fill="#000"/>
<rect x="1265" y="2251.3" width="551.5" height="3.4" fill="#000"/>
<rect x="1265" y="2297.05" width="551.5" height="3.4" fill="#000"/>
<rect x="1265" y="2343.9" width="551.5" height="3.4" fill="#000"/>
<rect x="1265" y="2390.3" width="551.5" height="3.4" fill="#000"/>
<rect x="1265" y="2436.3" width="551.5" height="3.4" fill="#000"/>
<rect x="1265" y="2482.7" width="551.5" height="3.4" fill="#000"/>
<rect x="1265" y="2206.25" width="551.5" height="323.75" fill="none" stroke="#000" stroke-width="5"/>
<path d="M1267 2240 L1344 2240 L1737.8 2530" fill="none" stroke="#000" stroke-width="5.2" stroke-linejoin="round" stroke-linecap="butt"/>
<text x="1201.12" y="2217.75" font-size="30.5" font-weight="bold" font-family="Liberation Serif" textLength="52.11" lengthAdjust="spacingAndGlyphs" stroke="#000" stroke-width="1.2">700</text>
<text x="1201.93" y="2264" font-size="30.5" font-weight="bold" font-family="Liberation Serif" textLength="51.27" lengthAdjust="spacingAndGlyphs" stroke="#000" stroke-width="1.2">600</text>
<text x="1201.73" y="2310" font-size="30.5" font-weight="bold" font-family="Liberation Serif" textLength="51.48" lengthAdjust="spacingAndGlyphs" stroke="#000" stroke-width="1.2">500</text>
<text x="1202.64" y="2356" font-size="30.5" font-weight="bold" font-family="Liberation Serif" textLength="50.54" lengthAdjust="spacingAndGlyphs" stroke="#000" stroke-width="1.2">400</text>
<text x="1201.81" y="2402.75" font-size="30.5" font-weight="bold" font-family="Liberation Serif" textLength="51.39" lengthAdjust="spacingAndGlyphs" stroke="#000" stroke-width="1.2">300</text>
<text x="1201.66" y="2449" font-size="30.5" font-weight="bold" font-family="Liberation Serif" textLength="51.55" lengthAdjust="spacingAndGlyphs" stroke="#000" stroke-width="1.2">200</text>
<text x="1200.27" y="2495" font-size="30.5" font-weight="bold" font-family="Liberation Serif" textLength="52.97" lengthAdjust="spacingAndGlyphs" stroke="#000" stroke-width="1.2">100</text>
<text x="1236.86" y="2541.5" font-size="30.5" font-weight="bold" font-family="Liberation Serif" textLength="16.28" lengthAdjust="spacingAndGlyphs" stroke="#000" stroke-width="1.2">0</text>
<text x="1256.75" y="2570" font-size="30.5" font-weight="bold" font-family="Liberation Serif" textLength="17.75" lengthAdjust="spacingAndGlyphs" stroke="#000" stroke-width="1.2">0</text>
<text x="1327.98" y="2570" font-size="30.5" font-weight="bold" font-family="Liberation Serif" textLength="32.61" lengthAdjust="spacingAndGlyphs" stroke="#000" stroke-width="1.2">25</text>
<text x="1405.22" y="2570" font-size="30.5" font-weight="bold" font-family="Liberation Serif" textLength="34.49" lengthAdjust="spacingAndGlyphs" stroke="#000" stroke-width="1.2">50</text>
<text x="1486.28" y="2570" font-size="30.5" font-weight="bold" font-family="Liberation Serif" textLength="31.78" lengthAdjust="spacingAndGlyphs" stroke="#000" stroke-width="1.2">75</text>
<text x="1552.92" y="2570" font-size="30.5" font-weight="bold" font-family="Liberation Serif" textLength="50.26" lengthAdjust="spacingAndGlyphs" stroke="#000" stroke-width="1.2">100</text>
<text x="1632.92" y="2570" font-size="30.5" font-weight="bold" font-family="Liberation Serif" textLength="50.21" lengthAdjust="spacingAndGlyphs" stroke="#000" stroke-width="1.2">125</text>
<text x="1710.42" y="2570" font-size="30.5" font-weight="bold" font-family="Liberation Serif" textLength="50.26" lengthAdjust="spacingAndGlyphs" stroke="#000" stroke-width="1.2">150</text>
<text x="1787.78" y="2570" font-size="30.5" font-weight="bold" font-family="Liberation Serif" textLength="52.92" lengthAdjust="spacingAndGlyphs" stroke="#000" stroke-width="1.2">175</text>
<text x="1305.35" y="2625" font-size="30.5" font-weight="bold" font-family="Liberation Serif" textLength="124.45" lengthAdjust="spacingAndGlyphs" stroke="#000" stroke-width="1.2">AMBIENT</text>
<text x="1450.19" y="2625" font-size="30.5" font-weight="bold" font-family="Liberation Serif" textLength="203.05" lengthAdjust="spacingAndGlyphs" stroke="#000" stroke-width="1.2">TEMPERATURE</text>
<text x="1672.64" y="2625" font-size="30.5" font-weight="bold" font-family="Liberation Serif" textLength="34.72" lengthAdjust="spacingAndGlyphs" stroke="#000" stroke-width="1.2">Ta</text>
<text x="1724.35" y="2625" font-size="30.5" font-weight="bold" font-family="Liberation Serif" textLength="48.79" lengthAdjust="spacingAndGlyphs" stroke="#000" stroke-width="1.2">(˚C)</text>
<text x="1457.97" y="2162" font-size="38" font-weight="bold" font-family="Liberation Serif" textLength="22.47" lengthAdjust="spacingAndGlyphs" stroke="#000" stroke-width="1.2">P</text>
<text x="1481.45" y="2167" font-size="30" font-weight="bold" font-family="Liberation Serif" textLength="17.05" lengthAdjust="spacingAndGlyphs" stroke="#000" stroke-width="1.2">C</text>
<text x="1527.24" y="2162" font-size="38" font-weight="bold" font-family="Liberation Serif" textLength="25.5" lengthAdjust="spacingAndGlyphs" stroke="#000" stroke-width="1.2">−</text>
<text x="1576.03" y="2162" font-size="38" font-weight="bold" font-family="Liberation Serif" textLength="42.93" lengthAdjust="spacingAndGlyphs" stroke="#000" stroke-width="1.2">Ta</text>
<text transform="translate(1130,2605.28) rotate(-90)" x="0" y="0" font-size="30.5" font-weight="bold" font-family="Liberation Serif" textLength="193.41" lengthAdjust="spacingAndGlyphs" stroke="#000" stroke-width="1.2">COLLECTOR</text>
<text transform="translate(1130,2394.19) rotate(-90)" x="0" y="0" font-size="30.5" font-weight="bold" font-family="Liberation Serif" textLength="85.59" lengthAdjust="spacingAndGlyphs" stroke="#000" stroke-width="1.2">POWER</text>
<text transform="translate(1130,2295.43) rotate(-90)" x="0" y="0" font-size="30.5" font-weight="bold" font-family="Liberation Serif" textLength="159.55" lengthAdjust="spacingAndGlyphs" stroke="#000" stroke-width="1.2">DISSIPATION</text>
<text transform="translate(1158,2367.55) rotate(-90)" x="0" y="0" font-size="30.5" font-weight="bold" font-family="Liberation Serif" textLength="94.11" lengthAdjust="spacingAndGlyphs" stroke="#000" stroke-width="1.2">(mW)</text>
<text transform="translate(1159,2445.94) rotate(-90)" x="0" y="0" font-size="30.5" font-weight="bold" font-family="Liberation Serif" textLength="19.23" lengthAdjust="spacingAndGlyphs" stroke="#000" stroke-width="1.2">P</text>
<text transform="translate(1170,2427.53) rotate(-90)" x="0" y="0" font-size="30.5" font-weight="bold" font-family="Liberation Serif" textLength="16.69" lengthAdjust="spacingAndGlyphs" stroke="#000" stroke-width="1.2">C</text>
</svg>
</body></html>
